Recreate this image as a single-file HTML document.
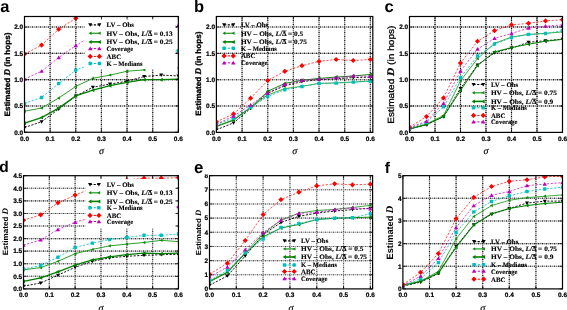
<!DOCTYPE html><html><head><meta charset="utf-8"><style>html,body{margin:0;padding:0;background:#fff;}svg{display:block;will-change:transform;text-rendering:geometricPrecision;}</style></head><body><svg xmlns="http://www.w3.org/2000/svg" width="567" height="310" viewBox="0 0 567 310">
<rect width="567" height="310" fill="#fff"/>
<clipPath id="clip8"><rect x="195" y="174.4" width="20" height="10"/></clipPath>
<clipPath id="clipa"><rect x="24.5" y="16.5" width="153.85" height="115.75"/></clipPath>
<g clip-path="url(#clipa)" opacity="0.9">
<g stroke="#9c9c9c" stroke-width="1.1"><line x1="50.14" y1="16" x2="50.14" y2="133"/><line x1="75.78" y1="16" x2="75.78" y2="133"/><line x1="101.42" y1="16" x2="101.42" y2="133"/><line x1="127.07" y1="16" x2="127.07" y2="133"/><line x1="152.71" y1="16" x2="152.71" y2="133"/><line x1="24" y1="105.94" x2="179" y2="105.94"/><line x1="24" y1="79.64" x2="179" y2="79.64"/><line x1="24" y1="53.33" x2="179" y2="53.33"/><line x1="24" y1="27.02" x2="179" y2="27.02"/></g>
<g stroke="#666" stroke-width="1.1" stroke-dasharray="1,1"><line x1="50.14" y1="16" x2="50.14" y2="133"/><line x1="75.78" y1="16" x2="75.78" y2="133"/><line x1="101.42" y1="16" x2="101.42" y2="133"/><line x1="127.07" y1="16" x2="127.07" y2="133"/><line x1="152.71" y1="16" x2="152.71" y2="133"/><line x1="24" y1="105.94" x2="179" y2="105.94"/><line x1="24" y1="79.64" x2="179" y2="79.64"/><line x1="24" y1="53.33" x2="179" y2="53.33"/><line x1="24" y1="27.02" x2="179" y2="27.02"/></g>
<g stroke="#000" stroke-width="1.1" stroke-dasharray="1,3"><line x1="50.14" y1="16" x2="50.14" y2="133"/><line x1="75.78" y1="16" x2="75.78" y2="133"/><line x1="101.42" y1="16" x2="101.42" y2="133"/><line x1="127.07" y1="16" x2="127.07" y2="133"/><line x1="152.71" y1="16" x2="152.71" y2="133"/><line x1="24" y1="105.94" x2="179" y2="105.94"/><line x1="24" y1="79.64" x2="179" y2="79.64"/><line x1="24" y1="53.33" x2="179" y2="53.33"/><line x1="24" y1="27.02" x2="179" y2="27.02"/></g>
</g>
<g clip-path="url(#clipa)"><polyline points="24.50,127.51 41.59,121.73 58.69,109.10 75.78,95.95 92.88,87.27 109.97,84.06 127.07,81.21 144.16,76.48 161.26,75.11 178.35,75.95" fill="none" stroke="#000" stroke-width="0.9" stroke-dasharray="2.2,1.4"/><path d="M22.50,126.01L26.50,126.01L24.50,129.41Z" fill="#000"/><path d="M39.59,120.23L43.59,120.23L41.59,123.63Z" fill="#000"/><path d="M56.69,107.60L60.69,107.60L58.69,111.00Z" fill="#000"/><path d="M73.78,94.45L77.78,94.45L75.78,97.85Z" fill="#000"/><path d="M90.88,85.77L94.88,85.77L92.88,89.17Z" fill="#000"/><path d="M107.97,82.56L111.97,82.56L109.97,85.96Z" fill="#000"/><path d="M125.07,79.71L129.07,79.71L127.07,83.11Z" fill="#000"/><path d="M142.16,74.98L146.16,74.98L144.16,78.38Z" fill="#000"/><path d="M159.26,73.61L163.26,73.61L161.26,77.01Z" fill="#000"/><path d="M176.35,74.45L180.35,74.45L178.35,77.85Z" fill="#000"/><polyline points="24.50,111.20 41.59,108.05 58.69,98.05 75.78,86.48 92.88,78.32 109.97,75.11 127.07,71.22 144.16,69.90" fill="none" stroke="#2ca02c" stroke-width="1.0"/><path d="M25.77,109.50L25.77,112.90L22.89,111.20Z" fill="#108a10"/><path d="M42.87,106.35L42.87,109.75L39.98,108.05Z" fill="#108a10"/><path d="M59.96,96.35L59.96,99.75L57.07,98.05Z" fill="#108a10"/><path d="M77.06,84.78L77.06,88.18L74.17,86.48Z" fill="#108a10"/><path d="M94.15,76.62L94.15,80.02L91.26,78.32Z" fill="#108a10"/><path d="M111.25,73.41L111.25,76.81L108.36,75.11Z" fill="#108a10"/><path d="M128.34,69.52L128.34,72.92L125.45,71.22Z" fill="#108a10"/><path d="M145.44,68.20L145.44,71.60L142.55,69.90Z" fill="#108a10"/><path d="M179.62,66.36L179.62,69.76L176.73,68.06Z" fill="#108a10"/><polyline points="24.50,123.15 41.59,117.62 58.69,108.10 75.78,95.95 92.88,90.16 109.97,85.63 127.07,82.42 144.16,79.64 161.26,79.64 178.35,79.11" fill="none" stroke="#007f00" stroke-width="1.3"/><path d="M26.00,121.15L26.00,125.15L22.60,123.15Z" fill="#007f00"/><path d="M43.09,115.62L43.09,119.62L39.69,117.62Z" fill="#007f00"/><path d="M60.19,106.10L60.19,110.10L56.79,108.10Z" fill="#007f00"/><path d="M77.28,93.95L77.28,97.95L73.88,95.95Z" fill="#007f00"/><path d="M94.38,88.16L94.38,92.16L90.98,90.16Z" fill="#007f00"/><path d="M111.47,83.63L111.47,87.63L108.07,85.63Z" fill="#007f00"/><path d="M128.57,80.42L128.57,84.42L125.17,82.42Z" fill="#007f00"/><path d="M145.66,77.64L145.66,81.64L142.26,79.64Z" fill="#007f00"/><path d="M162.76,77.64L162.76,81.64L159.36,79.64Z" fill="#007f00"/><path d="M179.85,77.11L179.85,81.11L176.45,79.11Z" fill="#007f00"/><polyline points="24.50,79.11 41.59,71.22 58.69,57.54 75.78,45.65 92.88,34.91 109.97,29.65 127.07,27.02 144.16,25.97 161.26,25.44 178.35,25.44" fill="none" stroke="#bf00bf" stroke-width="0.7" stroke-dasharray="2.2,1.6"/><path d="M22.30,80.76L26.70,80.76L24.50,77.02Z" fill="#bf00bf"/><path d="M39.39,72.87L43.79,72.87L41.59,69.13Z" fill="#bf00bf"/><path d="M56.49,59.19L60.89,59.19L58.69,55.45Z" fill="#bf00bf"/><path d="M73.58,47.30L77.98,47.30L75.78,43.56Z" fill="#bf00bf"/><path d="M90.68,36.56L95.08,36.56L92.88,32.82Z" fill="#bf00bf"/><path d="M107.77,31.30L112.17,31.30L109.97,27.56Z" fill="#bf00bf"/><path d="M124.87,28.67L129.27,28.67L127.07,24.93Z" fill="#bf00bf"/><path d="M141.96,27.62L146.36,27.62L144.16,23.88Z" fill="#bf00bf"/><path d="M159.06,27.09L163.46,27.09L161.26,23.35Z" fill="#bf00bf"/><path d="M176.15,27.09L180.55,27.09L178.35,23.35Z" fill="#bf00bf"/><polyline points="24.50,54.07 41.59,45.07 58.69,29.23 75.78,18.29 92.88,5.98 109.97,0.72 127.07,-4.55 144.16,-4.55 161.26,-4.55 178.35,-4.55" fill="none" stroke="#ff0000" stroke-width="0.7" stroke-dasharray="2.2,1.6"/><path d="M24.50,51.47L27.10,54.07L24.50,56.67L21.90,54.07Z" fill="#ff0000"/><path d="M41.59,42.47L44.19,45.07L41.59,47.67L38.99,45.07Z" fill="#ff0000"/><path d="M58.69,26.63L61.29,29.23L58.69,31.83L56.09,29.23Z" fill="#ff0000"/><path d="M75.78,15.69L78.38,18.29L75.78,20.89L73.18,18.29Z" fill="#ff0000"/><path d="M92.88,3.38L95.48,5.98L92.88,8.58L90.28,5.98Z" fill="#ff0000"/><path d="M109.97,-1.88L112.57,0.72L109.97,3.32L107.37,0.72Z" fill="#ff0000"/><path d="M127.07,-7.15L129.67,-4.55L127.07,-1.95L124.47,-4.55Z" fill="#ff0000"/><path d="M144.16,-7.15L146.76,-4.55L144.16,-1.95L141.56,-4.55Z" fill="#ff0000"/><path d="M161.26,-7.15L163.86,-4.55L161.26,-1.95L158.66,-4.55Z" fill="#ff0000"/><path d="M178.35,-7.15L180.95,-4.55L178.35,-1.95L175.75,-4.55Z" fill="#ff0000"/><polyline points="24.50,103.37 41.59,97.53 58.69,83.58 75.78,70.17 92.88,63.33 109.97,58.59 127.07,55.96 144.16,53.33 161.26,52.28 178.35,50.70" fill="none" stroke="#00bfbf" stroke-width="0.8" stroke-dasharray="2.2,1.6"/><rect x="22.80" y="101.67" width="3.40" height="3.40" rx="0.6" fill="#00bfbf"/><rect x="39.89" y="95.83" width="3.40" height="3.40" rx="0.6" fill="#00bfbf"/><rect x="56.99" y="81.88" width="3.40" height="3.40" rx="0.6" fill="#00bfbf"/><rect x="74.08" y="68.47" width="3.40" height="3.40" rx="0.6" fill="#00bfbf"/><rect x="91.18" y="61.63" width="3.40" height="3.40" rx="0.6" fill="#00bfbf"/><rect x="108.27" y="56.89" width="3.40" height="3.40" rx="0.6" fill="#00bfbf"/><rect x="125.37" y="54.26" width="3.40" height="3.40" rx="0.6" fill="#00bfbf"/><rect x="142.46" y="51.63" width="3.40" height="3.40" rx="0.6" fill="#00bfbf"/><rect x="159.56" y="50.58" width="3.40" height="3.40" rx="0.6" fill="#00bfbf"/><rect x="176.65" y="49.00" width="3.40" height="3.40" rx="0.6" fill="#00bfbf"/></g>
<rect x="84.5" y="18" width="91.0" height="51" fill="#fff"/><line x1="90.2" y1="24.80" x2="99.4" y2="24.80" stroke="#000" stroke-width="1.2" stroke-dasharray="2.2,1.4"/><path d="M88.20,23.30L92.20,23.30L90.20,26.70Z" fill="#000"/><path d="M97.40,23.30L101.40,23.30L99.40,26.70Z" fill="#000"/><text x="106.6" y="27.20" font-family="Liberation Serif" font-weight="bold" font-size="6.7" stroke="#000" stroke-width="0.12" textLength="27.3" lengthAdjust="spacingAndGlyphs">LV – Obs</text><line x1="90.2" y1="33.30" x2="99.4" y2="33.30" stroke="#2ca02c" stroke-width="1.3"/><path d="M91.48,31.60L91.48,35.00L88.59,33.30Z" fill="#108a10"/><path d="M100.68,31.60L100.68,35.00L97.79,33.30Z" fill="#108a10"/><text x="106.6" y="35.70" font-family="Liberation Serif" font-weight="bold" font-size="6.7" stroke="#000" stroke-width="0.12" textLength="66.0" lengthAdjust="spacingAndGlyphs">HV – Obs, <tspan font-style="italic">L</tspan>/<tspan text-decoration="overline">Δ</tspan> = 0.13</text><line x1="90.2" y1="41.90" x2="99.4" y2="41.90" stroke="#007f00" stroke-width="1.6"/><path d="M91.70,39.90L91.70,43.90L88.30,41.90Z" fill="#007f00"/><path d="M100.90,39.90L100.90,43.90L97.50,41.90Z" fill="#007f00"/><text x="106.6" y="44.30" font-family="Liberation Serif" font-weight="bold" font-size="6.7" stroke="#000" stroke-width="0.12" textLength="66.0" lengthAdjust="spacingAndGlyphs">HV – Obs, <tspan font-style="italic">L</tspan>/<tspan text-decoration="overline">Δ</tspan> = 0.25</text><line x1="90.2" y1="48.60" x2="99.4" y2="48.60" stroke="#bf00bf" stroke-width="1.0" stroke-dasharray="2.2,1.6"/><path d="M88.00,50.25L92.40,50.25L90.20,46.51Z" fill="#bf00bf"/><path d="M97.20,50.25L101.60,50.25L99.40,46.51Z" fill="#bf00bf"/><text x="106.6" y="51.00" font-family="Liberation Serif" font-weight="bold" font-size="6.7" stroke="#000" stroke-width="0.12" textLength="26.5" lengthAdjust="spacingAndGlyphs">Coverage</text><line x1="90.2" y1="56.40" x2="99.4" y2="56.40" stroke="#ff0000" stroke-width="1.0" stroke-dasharray="2.2,1.6"/><path d="M90.20,53.80L92.80,56.40L90.20,59.00L87.60,56.40Z" fill="#ff0000"/><path d="M99.40,53.80L102.00,56.40L99.40,59.00L96.80,56.40Z" fill="#ff0000"/><text x="106.6" y="58.80" font-family="Liberation Serif" font-weight="bold" font-size="6.7" stroke="#000" stroke-width="0.12" textLength="14.5" lengthAdjust="spacingAndGlyphs">ABC</text><line x1="90.2" y1="63.50" x2="99.4" y2="63.50" stroke="#00bfbf" stroke-width="1.1" stroke-dasharray="2.2,1.6"/><rect x="88.50" y="61.80" width="3.40" height="3.40" rx="0.6" fill="#00bfbf"/><rect x="97.70" y="61.80" width="3.40" height="3.40" rx="0.6" fill="#00bfbf"/><text x="106.6" y="65.90" font-family="Liberation Serif" font-weight="bold" font-size="6.7" stroke="#000" stroke-width="0.12" textLength="36.0" lengthAdjust="spacingAndGlyphs">K – Medians</text>
<rect x="24.5" y="16.5" width="153.85" height="115.75" fill="none" stroke="#000" stroke-width="1.2"/><g stroke="#000" stroke-width="0.8"><line x1="24.50" y1="132.25" x2="24.50" y2="129.25"/><line x1="24.50" y1="16.5" x2="24.50" y2="19.5"/><line x1="50.14" y1="132.25" x2="50.14" y2="129.25"/><line x1="50.14" y1="16.5" x2="50.14" y2="19.5"/><line x1="75.78" y1="132.25" x2="75.78" y2="129.25"/><line x1="75.78" y1="16.5" x2="75.78" y2="19.5"/><line x1="101.42" y1="132.25" x2="101.42" y2="129.25"/><line x1="101.42" y1="16.5" x2="101.42" y2="19.5"/><line x1="127.07" y1="132.25" x2="127.07" y2="129.25"/><line x1="127.07" y1="16.5" x2="127.07" y2="19.5"/><line x1="152.71" y1="132.25" x2="152.71" y2="129.25"/><line x1="152.71" y1="16.5" x2="152.71" y2="19.5"/><line x1="178.35" y1="132.25" x2="178.35" y2="129.25"/><line x1="178.35" y1="16.5" x2="178.35" y2="19.5"/><line x1="24.5" y1="132.25" x2="27.5" y2="132.25"/><line x1="178.35" y1="132.25" x2="175.35" y2="132.25"/><line x1="24.5" y1="105.94" x2="27.5" y2="105.94"/><line x1="178.35" y1="105.94" x2="175.35" y2="105.94"/><line x1="24.5" y1="79.64" x2="27.5" y2="79.64"/><line x1="178.35" y1="79.64" x2="175.35" y2="79.64"/><line x1="24.5" y1="53.33" x2="27.5" y2="53.33"/><line x1="178.35" y1="53.33" x2="175.35" y2="53.33"/><line x1="24.5" y1="27.02" x2="27.5" y2="27.02"/><line x1="178.35" y1="27.02" x2="175.35" y2="27.02"/></g>
<g font-family="Liberation Sans" font-weight="bold" font-size="6.4" fill="#000" stroke="#000" stroke-width="0.2"><text x="24.50" y="140.65" text-anchor="middle" textLength="9" lengthAdjust="spacingAndGlyphs">0.0</text><text x="50.14" y="140.65" text-anchor="middle" textLength="9" lengthAdjust="spacingAndGlyphs">0.1</text><text x="75.78" y="140.65" text-anchor="middle" textLength="9" lengthAdjust="spacingAndGlyphs">0.2</text><text x="101.42" y="140.65" text-anchor="middle" textLength="9" lengthAdjust="spacingAndGlyphs">0.3</text><text x="127.07" y="140.65" text-anchor="middle" textLength="9" lengthAdjust="spacingAndGlyphs">0.4</text><text x="152.71" y="140.65" text-anchor="middle" textLength="9" lengthAdjust="spacingAndGlyphs">0.5</text><text x="178.35" y="140.65" text-anchor="middle" textLength="9" lengthAdjust="spacingAndGlyphs">0.6</text><text x="23.20" y="134.50" text-anchor="end" textLength="9.0" lengthAdjust="spacingAndGlyphs">0.0</text><text x="23.20" y="108.19" text-anchor="end" textLength="9.0" lengthAdjust="spacingAndGlyphs">0.5</text><text x="23.20" y="81.89" text-anchor="end" textLength="9.0" lengthAdjust="spacingAndGlyphs">1.0</text><text x="23.20" y="55.58" text-anchor="end" textLength="9.0" lengthAdjust="spacingAndGlyphs">1.5</text><text x="23.20" y="29.27" text-anchor="end" textLength="9.0" lengthAdjust="spacingAndGlyphs">2.0</text></g>
<text x="101.42" y="153.85" text-anchor="middle" font-family="Liberation Serif" font-style="italic" font-size="10" stroke="#000" stroke-width="0.15">σ</text>
<text transform="translate(9.70,74.55) rotate(-90)" text-anchor="middle" font-family="Liberation Sans" font-weight="bold" stroke="#000" stroke-width="0.3" font-size="7.8" textLength="83.9" lengthAdjust="spacingAndGlyphs">Estimated <tspan font-family="Liberation Serif" font-style="italic" font-weight="bold" font-size="1.12em">D</tspan> (in hops)</text>
<text x="0.3" y="11.6" font-family="Liberation Sans" font-weight="bold" font-size="16.5">a</text>
<clipPath id="clipb"><rect x="216.4" y="16.5" width="156.4" height="115.9"/></clipPath>
<g clip-path="url(#clipb)" opacity="0.85">
<g stroke="#9c9c9c" stroke-width="1.1"><line x1="242.06" y1="16" x2="242.06" y2="133"/><line x1="267.72" y1="16" x2="267.72" y2="133"/><line x1="293.38" y1="16" x2="293.38" y2="133"/><line x1="319.03" y1="16" x2="319.03" y2="133"/><line x1="344.69" y1="16" x2="344.69" y2="133"/><line x1="370.35" y1="16" x2="370.35" y2="133"/><line x1="216" y1="106.06" x2="373" y2="106.06"/><line x1="216" y1="79.72" x2="373" y2="79.72"/><line x1="216" y1="53.38" x2="373" y2="53.38"/><line x1="216" y1="27.04" x2="373" y2="27.04"/></g>
<g stroke="#666" stroke-width="1.1" stroke-dasharray="1,1"><line x1="242.06" y1="16" x2="242.06" y2="133"/><line x1="267.72" y1="16" x2="267.72" y2="133"/><line x1="293.38" y1="16" x2="293.38" y2="133"/><line x1="319.03" y1="16" x2="319.03" y2="133"/><line x1="344.69" y1="16" x2="344.69" y2="133"/><line x1="370.35" y1="16" x2="370.35" y2="133"/><line x1="216" y1="106.06" x2="373" y2="106.06"/><line x1="216" y1="79.72" x2="373" y2="79.72"/><line x1="216" y1="53.38" x2="373" y2="53.38"/><line x1="216" y1="27.04" x2="373" y2="27.04"/></g>
<g stroke="#000" stroke-width="1.1" stroke-dasharray="1,3"><line x1="242.06" y1="16" x2="242.06" y2="133"/><line x1="267.72" y1="16" x2="267.72" y2="133"/><line x1="293.38" y1="16" x2="293.38" y2="133"/><line x1="319.03" y1="16" x2="319.03" y2="133"/><line x1="344.69" y1="16" x2="344.69" y2="133"/><line x1="370.35" y1="16" x2="370.35" y2="133"/><line x1="216" y1="106.06" x2="373" y2="106.06"/><line x1="216" y1="79.72" x2="373" y2="79.72"/><line x1="216" y1="53.38" x2="373" y2="53.38"/><line x1="216" y1="27.04" x2="373" y2="27.04"/></g>
</g>
<g clip-path="url(#clipb)"><polyline points="216.40,129.77 233.51,122.92 250.61,108.38 267.72,93.15 284.82,85.78 301.93,81.61 319.03,79.72 336.14,78.66 353.24,77.61 370.35,77.08" fill="none" stroke="#000" stroke-width="0.9" stroke-dasharray="2.2,1.4"/><path d="M214.40,128.27L218.40,128.27L216.40,131.67Z" fill="#000"/><path d="M231.51,121.42L235.51,121.42L233.51,124.82Z" fill="#000"/><path d="M248.61,106.88L252.61,106.88L250.61,110.28Z" fill="#000"/><path d="M265.72,91.65L269.72,91.65L267.72,95.05Z" fill="#000"/><path d="M282.82,84.28L286.82,84.28L284.82,87.68Z" fill="#000"/><path d="M299.93,80.11L303.93,80.11L301.93,83.51Z" fill="#000"/><path d="M317.03,78.22L321.03,78.22L319.03,81.62Z" fill="#000"/><path d="M334.14,77.16L338.14,77.16L336.14,80.56Z" fill="#000"/><path d="M351.24,76.11L355.24,76.11L353.24,79.51Z" fill="#000"/><path d="M368.35,75.58L372.35,75.58L370.35,78.98Z" fill="#000"/><polyline points="216.40,126.08 233.51,119.76 250.61,107.11 267.72,95.00 284.82,88.67 301.93,86.30 319.03,83.41 336.14,82.88 353.24,82.09 370.35,81.04" fill="none" stroke="#2ca02c" stroke-width="0.9"/><path d="M217.68,124.38L217.68,127.78L214.78,126.08Z" fill="#108a10"/><path d="M234.78,118.06L234.78,121.46L231.89,119.76Z" fill="#108a10"/><path d="M251.89,105.41L251.89,108.81L249.00,107.11Z" fill="#108a10"/><path d="M268.99,93.30L268.99,96.70L266.10,95.00Z" fill="#108a10"/><path d="M286.10,86.97L286.10,90.37L283.21,88.67Z" fill="#108a10"/><path d="M303.20,84.60L303.20,88.00L300.31,86.30Z" fill="#108a10"/><path d="M320.31,81.71L320.31,85.11L317.42,83.41Z" fill="#108a10"/><path d="M337.41,81.18L337.41,84.58L334.52,82.88Z" fill="#108a10"/><path d="M354.52,80.39L354.52,83.79L351.63,82.09Z" fill="#108a10"/><path d="M371.62,79.34L371.62,82.74L368.74,81.04Z" fill="#108a10"/><polyline points="216.40,126.61 233.51,120.28 250.61,107.64 267.72,91.31 284.82,83.41 301.93,80.25 319.03,78.40 336.14,77.08 353.24,76.03 370.35,74.45" fill="none" stroke="#007f00" stroke-width="0.9"/><path d="M217.90,124.61L217.90,128.61L214.50,126.61Z" fill="#007f00"/><path d="M235.01,118.28L235.01,122.28L231.61,120.28Z" fill="#007f00"/><path d="M252.11,105.64L252.11,109.64L248.71,107.64Z" fill="#007f00"/><path d="M269.22,89.31L269.22,93.31L265.82,91.31Z" fill="#007f00"/><path d="M286.32,81.41L286.32,85.41L282.92,83.41Z" fill="#007f00"/><path d="M303.43,78.25L303.43,82.25L300.03,80.25Z" fill="#007f00"/><path d="M320.53,76.40L320.53,80.40L317.13,78.40Z" fill="#007f00"/><path d="M337.64,75.08L337.64,79.08L334.24,77.08Z" fill="#007f00"/><path d="M354.74,74.03L354.74,78.03L351.34,76.03Z" fill="#007f00"/><path d="M371.85,72.45L371.85,76.45L368.45,74.45Z" fill="#007f00"/><polyline points="216.40,124.50 233.51,118.18 250.61,107.38 267.72,96.58 284.82,89.73 301.93,86.57 319.03,83.41 336.14,83.14 353.24,82.14 370.35,81.30" fill="none" stroke="#00bfbf" stroke-width="0.8" stroke-dasharray="2.2,1.6"/><rect x="214.70" y="122.80" width="3.40" height="3.40" rx="0.6" fill="#00bfbf"/><rect x="231.81" y="116.48" width="3.40" height="3.40" rx="0.6" fill="#00bfbf"/><rect x="248.91" y="105.68" width="3.40" height="3.40" rx="0.6" fill="#00bfbf"/><rect x="266.02" y="94.88" width="3.40" height="3.40" rx="0.6" fill="#00bfbf"/><rect x="283.12" y="88.03" width="3.40" height="3.40" rx="0.6" fill="#00bfbf"/><rect x="300.23" y="84.87" width="3.40" height="3.40" rx="0.6" fill="#00bfbf"/><rect x="317.33" y="81.71" width="3.40" height="3.40" rx="0.6" fill="#00bfbf"/><rect x="334.44" y="81.44" width="3.40" height="3.40" rx="0.6" fill="#00bfbf"/><rect x="351.54" y="80.44" width="3.40" height="3.40" rx="0.6" fill="#00bfbf"/><rect x="368.65" y="79.60" width="3.40" height="3.40" rx="0.6" fill="#00bfbf"/><polyline points="216.40,121.86 233.51,113.96 250.61,98.16 267.72,80.51 284.82,71.29 301.93,65.70 319.03,61.38 336.14,59.49 353.24,60.49 370.35,59.49" fill="none" stroke="#ff0000" stroke-width="0.7" stroke-dasharray="2.2,1.6"/><path d="M216.40,119.26L219.00,121.86L216.40,124.46L213.80,121.86Z" fill="#ff0000"/><path d="M233.51,111.36L236.11,113.96L233.51,116.56L230.91,113.96Z" fill="#ff0000"/><path d="M250.61,95.56L253.21,98.16L250.61,100.76L248.01,98.16Z" fill="#ff0000"/><path d="M267.72,77.91L270.32,80.51L267.72,83.11L265.12,80.51Z" fill="#ff0000"/><path d="M284.82,68.69L287.42,71.29L284.82,73.89L282.22,71.29Z" fill="#ff0000"/><path d="M301.93,63.10L304.53,65.70L301.93,68.30L299.33,65.70Z" fill="#ff0000"/><path d="M319.03,58.78L321.63,61.38L319.03,63.98L316.43,61.38Z" fill="#ff0000"/><path d="M336.14,56.89L338.74,59.49L336.14,62.09L333.54,59.49Z" fill="#ff0000"/><path d="M353.24,57.89L355.84,60.49L353.24,63.09L350.64,60.49Z" fill="#ff0000"/><path d="M370.35,56.89L372.95,59.49L370.35,62.09L367.75,59.49Z" fill="#ff0000"/><polyline points="216.40,124.29 233.51,116.07 250.61,105.01 267.72,93.05 284.82,84.46 301.93,80.25 319.03,79.19 336.14,77.72 353.24,75.82 370.35,76.29" fill="none" stroke="#bf00bf" stroke-width="0.7" stroke-dasharray="2.2,1.6"/><path d="M214.20,125.94L218.60,125.94L216.40,122.20Z" fill="#bf00bf"/><path d="M231.31,117.72L235.71,117.72L233.51,113.98Z" fill="#bf00bf"/><path d="M248.41,106.66L252.81,106.66L250.61,102.92Z" fill="#bf00bf"/><path d="M265.52,94.70L269.92,94.70L267.72,90.96Z" fill="#bf00bf"/><path d="M282.62,86.11L287.02,86.11L284.82,82.37Z" fill="#bf00bf"/><path d="M299.73,81.90L304.13,81.90L301.93,78.16Z" fill="#bf00bf"/><path d="M316.83,80.84L321.23,80.84L319.03,77.10Z" fill="#bf00bf"/><path d="M333.94,79.37L338.34,79.37L336.14,75.63Z" fill="#bf00bf"/><path d="M351.04,77.47L355.44,77.47L353.24,73.73Z" fill="#bf00bf"/><path d="M368.15,77.94L372.55,77.94L370.35,74.20Z" fill="#bf00bf"/></g>
<line x1="224.1" y1="24.80" x2="233.3" y2="24.80" stroke="#000" stroke-width="1.2" stroke-dasharray="2.2,1.4"/><path d="M222.10,23.30L226.10,23.30L224.10,26.70Z" fill="#000"/><path d="M231.30,23.30L235.30,23.30L233.30,26.70Z" fill="#000"/><text x="240.9" y="27.20" font-family="Liberation Serif" font-weight="bold" font-size="6.7" stroke="#000" stroke-width="0.12" textLength="27.3" lengthAdjust="spacingAndGlyphs">LV – Obs</text><line x1="224.1" y1="33.30" x2="233.3" y2="33.30" stroke="#2ca02c" stroke-width="1.3"/><path d="M225.38,31.60L225.38,35.00L222.48,33.30Z" fill="#108a10"/><path d="M234.58,31.60L234.58,35.00L231.69,33.30Z" fill="#108a10"/><text x="240.9" y="35.70" font-family="Liberation Serif" font-weight="bold" font-size="6.7" stroke="#000" stroke-width="0.12" textLength="62.4" lengthAdjust="spacingAndGlyphs">HV – Obs, <tspan font-style="italic">L</tspan>/<tspan text-decoration="overline">Δ</tspan> = 0.5</text><line x1="224.1" y1="41.90" x2="233.3" y2="41.90" stroke="#007f00" stroke-width="1.6"/><path d="M225.60,39.90L225.60,43.90L222.20,41.90Z" fill="#007f00"/><path d="M234.80,39.90L234.80,43.90L231.40,41.90Z" fill="#007f00"/><text x="240.9" y="44.30" font-family="Liberation Serif" font-weight="bold" font-size="6.7" stroke="#000" stroke-width="0.12" textLength="66.0" lengthAdjust="spacingAndGlyphs">HV – Obs, <tspan font-style="italic">L</tspan>/<tspan text-decoration="overline">Δ</tspan> = 0.75</text><line x1="224.1" y1="48.30" x2="233.3" y2="48.30" stroke="#00bfbf" stroke-width="1.1" stroke-dasharray="2.2,1.6"/><rect x="222.40" y="46.60" width="3.40" height="3.40" rx="0.6" fill="#00bfbf"/><rect x="231.60" y="46.60" width="3.40" height="3.40" rx="0.6" fill="#00bfbf"/><text x="240.9" y="50.70" font-family="Liberation Serif" font-weight="bold" font-size="6.7" stroke="#000" stroke-width="0.12" textLength="36.0" lengthAdjust="spacingAndGlyphs">K – Medians</text><line x1="224.1" y1="55.90" x2="233.3" y2="55.90" stroke="#ff0000" stroke-width="1.0" stroke-dasharray="2.2,1.6"/><path d="M224.10,53.30L226.70,55.90L224.10,58.50L221.50,55.90Z" fill="#ff0000"/><path d="M233.30,53.30L235.90,55.90L233.30,58.50L230.70,55.90Z" fill="#ff0000"/><text x="240.9" y="58.30" font-family="Liberation Serif" font-weight="bold" font-size="6.7" stroke="#000" stroke-width="0.12" textLength="14.5" lengthAdjust="spacingAndGlyphs">ABC</text><line x1="224.1" y1="62.80" x2="233.3" y2="62.80" stroke="#bf00bf" stroke-width="1.0" stroke-dasharray="2.2,1.6"/><path d="M221.90,64.45L226.30,64.45L224.10,60.71Z" fill="#bf00bf"/><path d="M231.10,64.45L235.50,64.45L233.30,60.71Z" fill="#bf00bf"/><text x="240.9" y="65.20" font-family="Liberation Serif" font-weight="bold" font-size="6.7" stroke="#000" stroke-width="0.12" textLength="26.5" lengthAdjust="spacingAndGlyphs">Coverage</text>
<rect x="216.4" y="16.5" width="156.4" height="115.9" fill="none" stroke="#000" stroke-width="1.2"/><g stroke="#000" stroke-width="0.8"><line x1="216.40" y1="132.4" x2="216.40" y2="129.4"/><line x1="216.40" y1="16.5" x2="216.40" y2="19.5"/><line x1="242.06" y1="132.4" x2="242.06" y2="129.4"/><line x1="242.06" y1="16.5" x2="242.06" y2="19.5"/><line x1="267.72" y1="132.4" x2="267.72" y2="129.4"/><line x1="267.72" y1="16.5" x2="267.72" y2="19.5"/><line x1="293.38" y1="132.4" x2="293.38" y2="129.4"/><line x1="293.38" y1="16.5" x2="293.38" y2="19.5"/><line x1="319.03" y1="132.4" x2="319.03" y2="129.4"/><line x1="319.03" y1="16.5" x2="319.03" y2="19.5"/><line x1="344.69" y1="132.4" x2="344.69" y2="129.4"/><line x1="344.69" y1="16.5" x2="344.69" y2="19.5"/><line x1="370.35" y1="132.4" x2="370.35" y2="129.4"/><line x1="370.35" y1="16.5" x2="370.35" y2="19.5"/><line x1="216.4" y1="132.40" x2="219.4" y2="132.40"/><line x1="372.8" y1="132.40" x2="369.8" y2="132.40"/><line x1="216.4" y1="106.06" x2="219.4" y2="106.06"/><line x1="372.8" y1="106.06" x2="369.8" y2="106.06"/><line x1="216.4" y1="79.72" x2="219.4" y2="79.72"/><line x1="372.8" y1="79.72" x2="369.8" y2="79.72"/><line x1="216.4" y1="53.38" x2="219.4" y2="53.38"/><line x1="372.8" y1="53.38" x2="369.8" y2="53.38"/><line x1="216.4" y1="27.04" x2="219.4" y2="27.04"/><line x1="372.8" y1="27.04" x2="369.8" y2="27.04"/></g>
<g font-family="Liberation Sans" font-weight="bold" font-size="6.4" fill="#000" stroke="#000" stroke-width="0.2"><text x="216.40" y="140.80" text-anchor="middle" textLength="9" lengthAdjust="spacingAndGlyphs">0.0</text><text x="242.06" y="140.80" text-anchor="middle" textLength="9" lengthAdjust="spacingAndGlyphs">0.1</text><text x="267.72" y="140.80" text-anchor="middle" textLength="9" lengthAdjust="spacingAndGlyphs">0.2</text><text x="293.38" y="140.80" text-anchor="middle" textLength="9" lengthAdjust="spacingAndGlyphs">0.3</text><text x="319.03" y="140.80" text-anchor="middle" textLength="9" lengthAdjust="spacingAndGlyphs">0.4</text><text x="344.69" y="140.80" text-anchor="middle" textLength="9" lengthAdjust="spacingAndGlyphs">0.5</text><text x="370.35" y="140.80" text-anchor="middle" textLength="9" lengthAdjust="spacingAndGlyphs">0.6</text><text x="215.10" y="134.65" text-anchor="end" textLength="9.0" lengthAdjust="spacingAndGlyphs">0.0</text><text x="215.10" y="108.31" text-anchor="end" textLength="9.0" lengthAdjust="spacingAndGlyphs">0.5</text><text x="215.10" y="81.97" text-anchor="end" textLength="9.0" lengthAdjust="spacingAndGlyphs">1.0</text><text x="215.10" y="55.63" text-anchor="end" textLength="9.0" lengthAdjust="spacingAndGlyphs">1.5</text><text x="215.10" y="29.29" text-anchor="end" textLength="9.0" lengthAdjust="spacingAndGlyphs">2.0</text></g>
<text x="294.60" y="154.00" text-anchor="middle" font-family="Liberation Serif" font-style="italic" font-size="10" stroke="#000" stroke-width="0.15">σ</text>
<text transform="translate(201.20,73.60) rotate(-90)" text-anchor="middle" font-family="Liberation Sans" font-weight="bold" stroke="#000" stroke-width="0.3" font-size="7.8" textLength="84.2" lengthAdjust="spacingAndGlyphs">Estimated <tspan font-family="Liberation Serif" font-style="italic" font-weight="bold" font-size="1.12em">D</tspan> (in hops)</text>
<text x="193.9" y="11.7" font-family="Liberation Sans" font-weight="bold" font-size="16.5">b</text>
<clipPath id="clipc"><rect x="409.5" y="16.5" width="153.0" height="115.9"/></clipPath>
<g clip-path="url(#clipc)" opacity="1.0">
<g stroke="#9c9c9c" stroke-width="1.1"><line x1="435.00" y1="16" x2="435.00" y2="133"/><line x1="460.50" y1="16" x2="460.50" y2="133"/><line x1="486.00" y1="16" x2="486.00" y2="133"/><line x1="511.50" y1="16" x2="511.50" y2="133"/><line x1="537.00" y1="16" x2="537.00" y2="133"/><line x1="409" y1="106.06" x2="563" y2="106.06"/><line x1="409" y1="79.72" x2="563" y2="79.72"/><line x1="409" y1="53.38" x2="563" y2="53.38"/><line x1="409" y1="27.04" x2="563" y2="27.04"/></g>
<g stroke="#666" stroke-width="1.1" stroke-dasharray="1,1"><line x1="435.00" y1="16" x2="435.00" y2="133"/><line x1="460.50" y1="16" x2="460.50" y2="133"/><line x1="486.00" y1="16" x2="486.00" y2="133"/><line x1="511.50" y1="16" x2="511.50" y2="133"/><line x1="537.00" y1="16" x2="537.00" y2="133"/><line x1="409" y1="106.06" x2="563" y2="106.06"/><line x1="409" y1="79.72" x2="563" y2="79.72"/><line x1="409" y1="53.38" x2="563" y2="53.38"/><line x1="409" y1="27.04" x2="563" y2="27.04"/></g>
<g stroke="#000" stroke-width="1.1" stroke-dasharray="1,3"><line x1="435.00" y1="16" x2="435.00" y2="133"/><line x1="460.50" y1="16" x2="460.50" y2="133"/><line x1="486.00" y1="16" x2="486.00" y2="133"/><line x1="511.50" y1="16" x2="511.50" y2="133"/><line x1="537.00" y1="16" x2="537.00" y2="133"/><line x1="409" y1="106.06" x2="563" y2="106.06"/><line x1="409" y1="79.72" x2="563" y2="79.72"/><line x1="409" y1="53.38" x2="563" y2="53.38"/><line x1="409" y1="27.04" x2="563" y2="27.04"/></g>
</g>
<g clip-path="url(#clipc)"><polyline points="409.50,128.71 426.50,124.76 443.50,116.60 460.50,88.41 477.50,64.97 494.50,52.85 511.50,48.11 528.50,42.31 545.50,40.73 562.50,39.15" fill="none" stroke="#000" stroke-width="0.9" stroke-dasharray="2.2,1.4"/><path d="M407.50,127.21L411.50,127.21L409.50,130.61Z" fill="#000"/><path d="M424.50,123.26L428.50,123.26L426.50,126.66Z" fill="#000"/><path d="M441.50,115.10L445.50,115.10L443.50,118.50Z" fill="#000"/><path d="M458.50,86.91L462.50,86.91L460.50,90.31Z" fill="#000"/><path d="M475.50,63.47L479.50,63.47L477.50,66.87Z" fill="#000"/><path d="M492.50,51.35L496.50,51.35L494.50,54.75Z" fill="#000"/><path d="M509.50,46.61L513.50,46.61L511.50,50.01Z" fill="#000"/><path d="M526.50,40.81L530.50,40.81L528.50,44.21Z" fill="#000"/><path d="M543.50,39.23L547.50,39.23L545.50,42.63Z" fill="#000"/><path d="M560.50,37.65L564.50,37.65L562.50,41.05Z" fill="#000"/><polyline points="409.50,128.71 426.50,123.97 443.50,115.54 460.50,80.77 477.50,58.65 494.50,43.37 511.50,37.05 528.50,34.41 545.50,33.36 562.50,31.94" fill="none" stroke="#2ca02c" stroke-width="0.9"/><path d="M410.77,127.01L410.77,130.41L407.88,128.71Z" fill="#108a10"/><path d="M427.77,122.27L427.77,125.67L424.88,123.97Z" fill="#108a10"/><path d="M444.77,113.84L444.77,117.24L441.88,115.54Z" fill="#108a10"/><path d="M461.77,79.07L461.77,82.47L458.88,80.77Z" fill="#108a10"/><path d="M478.77,56.95L478.77,60.35L475.88,58.65Z" fill="#108a10"/><path d="M495.77,41.67L495.77,45.07L492.88,43.37Z" fill="#108a10"/><path d="M512.77,35.35L512.77,38.75L509.88,37.05Z" fill="#108a10"/><path d="M529.77,32.71L529.77,36.11L526.88,34.41Z" fill="#108a10"/><path d="M546.77,31.66L546.77,35.06L543.88,33.36Z" fill="#108a10"/><path d="M563.77,30.24L563.77,33.64L560.88,31.94Z" fill="#108a10"/><polyline points="409.50,129.24 426.50,124.50 443.50,116.60 460.50,90.52 477.50,65.49 494.50,51.95 511.50,47.58 528.50,44.16 545.50,41.26 562.50,39.36" fill="none" stroke="#007f00" stroke-width="1.0"/><path d="M411.00,127.24L411.00,131.24L407.60,129.24Z" fill="#007f00"/><path d="M428.00,122.50L428.00,126.50L424.60,124.50Z" fill="#007f00"/><path d="M445.00,114.60L445.00,118.60L441.60,116.60Z" fill="#007f00"/><path d="M462.00,88.52L462.00,92.52L458.60,90.52Z" fill="#007f00"/><path d="M479.00,63.49L479.00,67.49L475.60,65.49Z" fill="#007f00"/><path d="M496.00,49.95L496.00,53.95L492.60,51.95Z" fill="#007f00"/><path d="M513.00,45.58L513.00,49.58L509.60,47.58Z" fill="#007f00"/><path d="M530.00,42.16L530.00,46.16L526.60,44.16Z" fill="#007f00"/><path d="M547.00,39.26L547.00,43.26L543.60,41.26Z" fill="#007f00"/><path d="M564.00,37.36L564.00,41.36L560.60,39.36Z" fill="#007f00"/><polyline points="409.50,128.19 426.50,122.39 443.50,106.85 460.50,77.61 477.50,56.01 494.50,44.16 511.50,37.57 528.50,34.41 545.50,33.52 562.50,30.72" fill="none" stroke="#00bfbf" stroke-width="0.8" stroke-dasharray="2.2,1.6"/><rect x="407.80" y="126.49" width="3.40" height="3.40" rx="0.6" fill="#00bfbf"/><rect x="424.80" y="120.69" width="3.40" height="3.40" rx="0.6" fill="#00bfbf"/><rect x="441.80" y="105.15" width="3.40" height="3.40" rx="0.6" fill="#00bfbf"/><rect x="458.80" y="75.91" width="3.40" height="3.40" rx="0.6" fill="#00bfbf"/><rect x="475.80" y="54.31" width="3.40" height="3.40" rx="0.6" fill="#00bfbf"/><rect x="492.80" y="42.46" width="3.40" height="3.40" rx="0.6" fill="#00bfbf"/><rect x="509.80" y="35.87" width="3.40" height="3.40" rx="0.6" fill="#00bfbf"/><rect x="526.80" y="32.71" width="3.40" height="3.40" rx="0.6" fill="#00bfbf"/><rect x="543.80" y="31.82" width="3.40" height="3.40" rx="0.6" fill="#00bfbf"/><rect x="560.80" y="29.02" width="3.40" height="3.40" rx="0.6" fill="#00bfbf"/><polyline points="409.50,127.13 426.50,116.60 443.50,97.95 460.50,63.07 477.50,41.26 494.50,30.72 511.50,24.93 528.50,23.35 545.50,20.93 562.50,19.66" fill="none" stroke="#ff0000" stroke-width="0.7" stroke-dasharray="2.2,1.6"/><path d="M409.50,124.53L412.10,127.13L409.50,129.73L406.90,127.13Z" fill="#ff0000"/><path d="M426.50,114.00L429.10,116.60L426.50,119.20L423.90,116.60Z" fill="#ff0000"/><path d="M443.50,95.35L446.10,97.95L443.50,100.55L440.90,97.95Z" fill="#ff0000"/><path d="M460.50,60.47L463.10,63.07L460.50,65.67L457.90,63.07Z" fill="#ff0000"/><path d="M477.50,38.66L480.10,41.26L477.50,43.86L474.90,41.26Z" fill="#ff0000"/><path d="M494.50,28.12L497.10,30.72L494.50,33.32L491.90,30.72Z" fill="#ff0000"/><path d="M511.50,22.33L514.10,24.93L511.50,27.53L508.90,24.93Z" fill="#ff0000"/><path d="M528.50,20.75L531.10,23.35L528.50,25.95L525.90,23.35Z" fill="#ff0000"/><path d="M545.50,18.33L548.10,20.93L545.50,23.53L542.90,20.93Z" fill="#ff0000"/><path d="M562.50,17.06L565.10,19.66L562.50,22.26L559.90,19.66Z" fill="#ff0000"/><polyline points="409.50,127.66 426.50,121.34 443.50,103.27 460.50,71.03 477.50,49.16 494.50,38.36 511.50,33.52 528.50,28.09 545.50,26.14 562.50,24.93" fill="none" stroke="#bf00bf" stroke-width="0.7" stroke-dasharray="2.2,1.6"/><path d="M407.30,129.31L411.70,129.31L409.50,125.57Z" fill="#bf00bf"/><path d="M424.30,122.99L428.70,122.99L426.50,119.25Z" fill="#bf00bf"/><path d="M441.30,104.92L445.70,104.92L443.50,101.18Z" fill="#bf00bf"/><path d="M458.30,72.68L462.70,72.68L460.50,68.94Z" fill="#bf00bf"/><path d="M475.30,50.81L479.70,50.81L477.50,47.07Z" fill="#bf00bf"/><path d="M492.30,40.01L496.70,40.01L494.50,36.27Z" fill="#bf00bf"/><path d="M509.30,35.17L513.70,35.17L511.50,31.43Z" fill="#bf00bf"/><path d="M526.30,29.74L530.70,29.74L528.50,26.00Z" fill="#bf00bf"/><path d="M543.30,27.79L547.70,27.79L545.50,24.05Z" fill="#bf00bf"/><path d="M560.30,26.58L564.70,26.58L562.50,22.84Z" fill="#bf00bf"/></g>
<line x1="473.5" y1="84.50" x2="483.2" y2="84.50" stroke="#000" stroke-width="1.2" stroke-dasharray="2.2,1.4"/><path d="M471.50,83.00L475.50,83.00L473.50,86.40Z" fill="#000"/><path d="M481.20,83.00L485.20,83.00L483.20,86.40Z" fill="#000"/><text x="490.9" y="86.90" font-family="Liberation Serif" font-weight="bold" font-size="6.7" stroke="#000" stroke-width="0.12" textLength="27.3" lengthAdjust="spacingAndGlyphs">LV – Obs</text><line x1="473.5" y1="92.80" x2="483.2" y2="92.80" stroke="#2ca02c" stroke-width="1.3"/><path d="M474.77,91.10L474.77,94.50L471.88,92.80Z" fill="#108a10"/><path d="M484.47,91.10L484.47,94.50L481.58,92.80Z" fill="#108a10"/><text x="490.9" y="95.20" font-family="Liberation Serif" font-weight="bold" font-size="6.7" stroke="#000" stroke-width="0.12" textLength="66.0" lengthAdjust="spacingAndGlyphs">HV – Obs, <tspan font-style="italic">L</tspan>/<tspan text-decoration="overline">Δ</tspan> = 0.75</text><line x1="473.5" y1="101.40" x2="483.2" y2="101.40" stroke="#007f00" stroke-width="1.6"/><path d="M475.00,99.40L475.00,103.40L471.60,101.40Z" fill="#007f00"/><path d="M484.70,99.40L484.70,103.40L481.30,101.40Z" fill="#007f00"/><text x="490.9" y="103.80" font-family="Liberation Serif" font-weight="bold" font-size="6.7" stroke="#000" stroke-width="0.12" textLength="62.4" lengthAdjust="spacingAndGlyphs">HV – Obs, <tspan font-style="italic">L</tspan>/<tspan text-decoration="overline">Δ</tspan> = 0.9</text><line x1="473.5" y1="107.80" x2="483.2" y2="107.80" stroke="#00bfbf" stroke-width="1.1" stroke-dasharray="2.2,1.6"/><rect x="471.80" y="106.10" width="3.40" height="3.40" rx="0.6" fill="#00bfbf"/><rect x="481.50" y="106.10" width="3.40" height="3.40" rx="0.6" fill="#00bfbf"/><text x="490.9" y="110.20" font-family="Liberation Serif" font-weight="bold" font-size="6.7" stroke="#000" stroke-width="0.12" textLength="36.0" lengthAdjust="spacingAndGlyphs">K – Medians</text><line x1="473.5" y1="115.40" x2="483.2" y2="115.40" stroke="#ff0000" stroke-width="1.0" stroke-dasharray="2.2,1.6"/><path d="M473.50,112.80L476.10,115.40L473.50,118.00L470.90,115.40Z" fill="#ff0000"/><path d="M483.20,112.80L485.80,115.40L483.20,118.00L480.60,115.40Z" fill="#ff0000"/><text x="490.9" y="117.80" font-family="Liberation Serif" font-weight="bold" font-size="6.7" stroke="#000" stroke-width="0.12" textLength="14.5" lengthAdjust="spacingAndGlyphs">ABC</text><line x1="473.5" y1="121.90" x2="483.2" y2="121.90" stroke="#bf00bf" stroke-width="1.0" stroke-dasharray="2.2,1.6"/><path d="M471.30,123.55L475.70,123.55L473.50,119.81Z" fill="#bf00bf"/><path d="M481.00,123.55L485.40,123.55L483.20,119.81Z" fill="#bf00bf"/><text x="490.9" y="124.30" font-family="Liberation Serif" font-weight="bold" font-size="6.7" stroke="#000" stroke-width="0.12" textLength="26.5" lengthAdjust="spacingAndGlyphs">Coverage</text>
<rect x="409.5" y="16.5" width="153.0" height="115.9" fill="none" stroke="#000" stroke-width="1.2"/><g stroke="#000" stroke-width="0.8"><line x1="409.50" y1="132.4" x2="409.50" y2="129.4"/><line x1="409.50" y1="16.5" x2="409.50" y2="19.5"/><line x1="435.00" y1="132.4" x2="435.00" y2="129.4"/><line x1="435.00" y1="16.5" x2="435.00" y2="19.5"/><line x1="460.50" y1="132.4" x2="460.50" y2="129.4"/><line x1="460.50" y1="16.5" x2="460.50" y2="19.5"/><line x1="486.00" y1="132.4" x2="486.00" y2="129.4"/><line x1="486.00" y1="16.5" x2="486.00" y2="19.5"/><line x1="511.50" y1="132.4" x2="511.50" y2="129.4"/><line x1="511.50" y1="16.5" x2="511.50" y2="19.5"/><line x1="537.00" y1="132.4" x2="537.00" y2="129.4"/><line x1="537.00" y1="16.5" x2="537.00" y2="19.5"/><line x1="562.50" y1="132.4" x2="562.50" y2="129.4"/><line x1="562.50" y1="16.5" x2="562.50" y2="19.5"/><line x1="409.5" y1="132.40" x2="412.5" y2="132.40"/><line x1="562.5" y1="132.40" x2="559.5" y2="132.40"/><line x1="409.5" y1="106.06" x2="412.5" y2="106.06"/><line x1="562.5" y1="106.06" x2="559.5" y2="106.06"/><line x1="409.5" y1="79.72" x2="412.5" y2="79.72"/><line x1="562.5" y1="79.72" x2="559.5" y2="79.72"/><line x1="409.5" y1="53.38" x2="412.5" y2="53.38"/><line x1="562.5" y1="53.38" x2="559.5" y2="53.38"/><line x1="409.5" y1="27.04" x2="412.5" y2="27.04"/><line x1="562.5" y1="27.04" x2="559.5" y2="27.04"/></g>
<g font-family="Liberation Sans" font-weight="bold" font-size="6.4" fill="#000" stroke="#000" stroke-width="0.2"><text x="409.50" y="140.80" text-anchor="middle" textLength="9" lengthAdjust="spacingAndGlyphs">0.0</text><text x="435.00" y="140.80" text-anchor="middle" textLength="9" lengthAdjust="spacingAndGlyphs">0.1</text><text x="460.50" y="140.80" text-anchor="middle" textLength="9" lengthAdjust="spacingAndGlyphs">0.2</text><text x="486.00" y="140.80" text-anchor="middle" textLength="9" lengthAdjust="spacingAndGlyphs">0.3</text><text x="511.50" y="140.80" text-anchor="middle" textLength="9" lengthAdjust="spacingAndGlyphs">0.4</text><text x="537.00" y="140.80" text-anchor="middle" textLength="9" lengthAdjust="spacingAndGlyphs">0.5</text><text x="562.50" y="140.80" text-anchor="middle" textLength="9" lengthAdjust="spacingAndGlyphs">0.6</text><text x="408.20" y="134.65" text-anchor="end" textLength="9.0" lengthAdjust="spacingAndGlyphs">0.0</text><text x="408.20" y="108.31" text-anchor="end" textLength="9.0" lengthAdjust="spacingAndGlyphs">0.5</text><text x="408.20" y="81.97" text-anchor="end" textLength="9.0" lengthAdjust="spacingAndGlyphs">1.0</text><text x="408.20" y="55.63" text-anchor="end" textLength="9.0" lengthAdjust="spacingAndGlyphs">1.5</text><text x="408.20" y="29.29" text-anchor="end" textLength="9.0" lengthAdjust="spacingAndGlyphs">2.0</text></g>
<text x="486.00" y="154.00" text-anchor="middle" font-family="Liberation Serif" font-style="italic" font-size="10" stroke="#000" stroke-width="0.15">σ</text>
<text transform="translate(393.50,74.60) rotate(-90)" text-anchor="middle" font-family="Liberation Sans" stroke="#000" stroke-width="0.28" font-size="9.0" textLength="98.2" lengthAdjust="spacingAndGlyphs">Estimated <tspan font-family="Liberation Serif" font-style="italic" font-weight="bold" font-size="1.12em">D</tspan> (in hops)</text>
<text x="384.4" y="11.6" font-family="Liberation Sans" font-weight="bold" font-size="16.5">c</text>
<clipPath id="clipd"><rect x="23.5" y="175.7" width="154.95" height="113.19999999999999"/></clipPath>
<g clip-path="url(#clipd)" opacity="0.75">
<g stroke="#9c9c9c" stroke-width="1.1"><line x1="49.33" y1="175" x2="49.33" y2="289"/><line x1="75.15" y1="175" x2="75.15" y2="289"/><line x1="100.97" y1="175" x2="100.97" y2="289"/><line x1="126.80" y1="175" x2="126.80" y2="289"/><line x1="152.62" y1="175" x2="152.62" y2="289"/><line x1="23" y1="276.32" x2="179" y2="276.32"/><line x1="23" y1="263.74" x2="179" y2="263.74"/><line x1="23" y1="251.17" x2="179" y2="251.17"/><line x1="23" y1="238.59" x2="179" y2="238.59"/><line x1="23" y1="226.01" x2="179" y2="226.01"/><line x1="23" y1="213.43" x2="179" y2="213.43"/><line x1="23" y1="200.86" x2="179" y2="200.86"/><line x1="23" y1="188.28" x2="179" y2="188.28"/></g>
<g stroke="#666" stroke-width="1.1" stroke-dasharray="1,1"><line x1="49.33" y1="175" x2="49.33" y2="289"/><line x1="75.15" y1="175" x2="75.15" y2="289"/><line x1="100.97" y1="175" x2="100.97" y2="289"/><line x1="126.80" y1="175" x2="126.80" y2="289"/><line x1="152.62" y1="175" x2="152.62" y2="289"/><line x1="23" y1="276.32" x2="179" y2="276.32"/><line x1="23" y1="263.74" x2="179" y2="263.74"/><line x1="23" y1="251.17" x2="179" y2="251.17"/><line x1="23" y1="238.59" x2="179" y2="238.59"/><line x1="23" y1="226.01" x2="179" y2="226.01"/><line x1="23" y1="213.43" x2="179" y2="213.43"/><line x1="23" y1="200.86" x2="179" y2="200.86"/><line x1="23" y1="188.28" x2="179" y2="188.28"/></g>
<g stroke="#000" stroke-width="1.1" stroke-dasharray="1,3"><line x1="49.33" y1="175" x2="49.33" y2="289"/><line x1="75.15" y1="175" x2="75.15" y2="289"/><line x1="100.97" y1="175" x2="100.97" y2="289"/><line x1="126.80" y1="175" x2="126.80" y2="289"/><line x1="152.62" y1="175" x2="152.62" y2="289"/><line x1="23" y1="276.32" x2="179" y2="276.32"/><line x1="23" y1="263.74" x2="179" y2="263.74"/><line x1="23" y1="251.17" x2="179" y2="251.17"/><line x1="23" y1="238.59" x2="179" y2="238.59"/><line x1="23" y1="226.01" x2="179" y2="226.01"/><line x1="23" y1="213.43" x2="179" y2="213.43"/><line x1="23" y1="200.86" x2="179" y2="200.86"/><line x1="23" y1="188.28" x2="179" y2="188.28"/></g>
</g>
<g clip-path="url(#clipd)"><polyline points="23.50,286.13 40.72,282.99 57.93,275.17 75.15,267.27 92.37,261.33 109.58,257.83 126.80,256.32 144.02,255.32 161.23,254.69 178.45,254.31" fill="none" stroke="#000" stroke-width="0.9" stroke-dasharray="2.2,1.4"/><path d="M21.50,284.63L25.50,284.63L23.50,288.03Z" fill="#000"/><path d="M38.72,281.49L42.72,281.49L40.72,284.89Z" fill="#000"/><path d="M55.93,273.67L59.93,273.67L57.93,277.07Z" fill="#000"/><path d="M73.15,265.77L77.15,265.77L75.15,269.17Z" fill="#000"/><path d="M90.37,259.83L94.37,259.83L92.37,263.23Z" fill="#000"/><path d="M107.58,256.33L111.58,256.33L109.58,259.73Z" fill="#000"/><path d="M124.80,254.82L128.80,254.82L126.80,258.22Z" fill="#000"/><path d="M142.02,253.82L146.02,253.82L144.02,257.22Z" fill="#000"/><path d="M159.23,253.19L163.23,253.19L161.23,256.59Z" fill="#000"/><path d="M176.45,252.81L180.45,252.81L178.45,256.21Z" fill="#000"/><polyline points="23.50,269.78 40.72,267.64 57.93,261.33 75.15,253.68 92.37,249.41 109.58,245.88 126.80,244.12 144.02,242.49 161.23,240.35 178.45,241.61" fill="none" stroke="#2ca02c" stroke-width="1.0"/><path d="M24.77,268.08L24.77,271.48L21.89,269.78Z" fill="#108a10"/><path d="M41.99,265.94L41.99,269.34L39.10,267.64Z" fill="#108a10"/><path d="M59.21,259.63L59.21,263.03L56.32,261.33Z" fill="#108a10"/><path d="M76.43,251.98L76.43,255.38L73.54,253.68Z" fill="#108a10"/><path d="M93.64,247.71L93.64,251.11L90.75,249.41Z" fill="#108a10"/><path d="M110.86,244.18L110.86,247.58L107.97,245.88Z" fill="#108a10"/><path d="M128.08,242.42L128.08,245.82L125.19,244.12Z" fill="#108a10"/><path d="M145.29,240.79L145.29,244.19L142.40,242.49Z" fill="#108a10"/><path d="M162.51,238.65L162.51,242.05L159.62,240.35Z" fill="#108a10"/><path d="M179.72,239.91L179.72,243.31L176.83,241.61Z" fill="#108a10"/><polyline points="23.50,281.48 40.72,277.83 57.93,271.79 75.15,265.13 92.37,259.97 109.58,256.83 126.80,254.69 144.02,253.18 161.23,253.68 178.45,253.18" fill="none" stroke="#007f00" stroke-width="1.3"/><path d="M25.00,279.48L25.00,283.48L21.60,281.48Z" fill="#007f00"/><path d="M42.22,275.83L42.22,279.83L38.82,277.83Z" fill="#007f00"/><path d="M59.43,269.79L59.43,273.79L56.03,271.79Z" fill="#007f00"/><path d="M76.65,263.13L76.65,267.13L73.25,265.13Z" fill="#007f00"/><path d="M93.87,257.97L93.87,261.97L90.47,259.97Z" fill="#007f00"/><path d="M111.08,254.83L111.08,258.83L107.68,256.83Z" fill="#007f00"/><path d="M128.30,252.69L128.30,256.69L124.90,254.69Z" fill="#007f00"/><path d="M145.52,251.18L145.52,255.18L142.12,253.18Z" fill="#007f00"/><path d="M162.73,251.68L162.73,255.68L159.33,253.68Z" fill="#007f00"/><path d="M179.95,251.18L179.95,255.18L176.55,253.18Z" fill="#007f00"/><polyline points="23.50,269.03 40.72,265.51 57.93,257.20 75.15,247.39 92.37,243.12 109.58,239.60 126.80,237.46 144.02,235.32 161.23,235.32 178.45,234.06" fill="none" stroke="#00bfbf" stroke-width="0.8" stroke-dasharray="2.2,1.6"/><rect x="21.80" y="267.33" width="3.40" height="3.40" rx="0.6" fill="#00bfbf"/><rect x="39.02" y="263.81" width="3.40" height="3.40" rx="0.6" fill="#00bfbf"/><rect x="56.23" y="255.50" width="3.40" height="3.40" rx="0.6" fill="#00bfbf"/><rect x="73.45" y="245.69" width="3.40" height="3.40" rx="0.6" fill="#00bfbf"/><rect x="90.67" y="241.42" width="3.40" height="3.40" rx="0.6" fill="#00bfbf"/><rect x="107.88" y="237.90" width="3.40" height="3.40" rx="0.6" fill="#00bfbf"/><rect x="125.10" y="235.76" width="3.40" height="3.40" rx="0.6" fill="#00bfbf"/><rect x="142.32" y="233.62" width="3.40" height="3.40" rx="0.6" fill="#00bfbf"/><rect x="159.53" y="233.62" width="3.40" height="3.40" rx="0.6" fill="#00bfbf"/><rect x="176.75" y="232.36" width="3.40" height="3.40" rx="0.6" fill="#00bfbf"/><polyline points="23.50,220.23 40.72,214.82 57.93,202.87 75.15,195.07 92.37,188.28 109.58,183.25 126.80,179.98 144.02,178.22 161.23,178.22 178.45,177.71" fill="none" stroke="#ff0000" stroke-width="0.7" stroke-dasharray="2.2,1.6"/><path d="M23.50,217.63L26.10,220.23L23.50,222.83L20.90,220.23Z" fill="#ff0000"/><path d="M40.72,212.22L43.32,214.82L40.72,217.42L38.12,214.82Z" fill="#ff0000"/><path d="M57.93,200.27L60.53,202.87L57.93,205.47L55.33,202.87Z" fill="#ff0000"/><path d="M75.15,192.47L77.75,195.07L75.15,197.67L72.55,195.07Z" fill="#ff0000"/><path d="M92.37,185.68L94.97,188.28L92.37,190.88L89.77,188.28Z" fill="#ff0000"/><path d="M109.58,180.65L112.18,183.25L109.58,185.85L106.98,183.25Z" fill="#ff0000"/><path d="M126.80,177.38L129.40,179.98L126.80,182.58L124.20,179.98Z" fill="#ff0000"/><path d="M144.02,175.62L146.62,178.22L144.02,180.82L141.42,178.22Z" fill="#ff0000"/><path d="M161.23,175.62L163.83,178.22L161.23,180.82L158.63,178.22Z" fill="#ff0000"/><path d="M178.45,175.11L181.05,177.71L178.45,180.31L175.85,177.71Z" fill="#ff0000"/><polyline points="23.50,245.13 40.72,239.97 57.93,229.53 75.15,222.24 92.37,217.21 109.58,213.43 126.80,210.92 144.02,208.91 161.23,207.90 178.45,206.64" fill="none" stroke="#bf00bf" stroke-width="0.7" stroke-dasharray="2.2,1.6"/><path d="M21.30,246.78L25.70,246.78L23.50,243.04Z" fill="#bf00bf"/><path d="M38.52,241.62L42.92,241.62L40.72,237.88Z" fill="#bf00bf"/><path d="M55.73,231.18L60.13,231.18L57.93,227.44Z" fill="#bf00bf"/><path d="M72.95,223.89L77.35,223.89L75.15,220.15Z" fill="#bf00bf"/><path d="M90.17,218.86L94.57,218.86L92.37,215.12Z" fill="#bf00bf"/><path d="M107.38,215.08L111.78,215.08L109.58,211.34Z" fill="#bf00bf"/><path d="M124.60,212.57L129.00,212.57L126.80,208.83Z" fill="#bf00bf"/><path d="M141.82,210.56L146.22,210.56L144.02,206.82Z" fill="#bf00bf"/><path d="M159.03,209.55L163.43,209.55L161.23,205.81Z" fill="#bf00bf"/><path d="M176.25,208.29L180.65,208.29L178.45,204.55Z" fill="#bf00bf"/></g>
<rect x="85.4" y="179" width="90.6" height="49" fill="#fff"/><line x1="90.0" y1="184.50" x2="98.9" y2="184.50" stroke="#000" stroke-width="1.2" stroke-dasharray="2.2,1.4"/><path d="M88.00,183.00L92.00,183.00L90.00,186.40Z" fill="#000"/><path d="M96.90,183.00L100.90,183.00L98.90,186.40Z" fill="#000"/><text x="106.7" y="186.90" font-family="Liberation Serif" font-weight="bold" font-size="6.7" stroke="#000" stroke-width="0.12" textLength="27.3" lengthAdjust="spacingAndGlyphs">LV – Obs</text><line x1="90.0" y1="192.80" x2="98.9" y2="192.80" stroke="#2ca02c" stroke-width="1.3"/><path d="M91.28,191.10L91.28,194.50L88.39,192.80Z" fill="#108a10"/><path d="M100.18,191.10L100.18,194.50L97.29,192.80Z" fill="#108a10"/><text x="106.7" y="195.20" font-family="Liberation Serif" font-weight="bold" font-size="6.7" stroke="#000" stroke-width="0.12" textLength="66.0" lengthAdjust="spacingAndGlyphs">HV – Obs, <tspan font-style="italic">L</tspan>/<tspan text-decoration="overline">Δ</tspan> = 0.13</text><line x1="90.0" y1="201.40" x2="98.9" y2="201.40" stroke="#007f00" stroke-width="1.6"/><path d="M91.50,199.40L91.50,203.40L88.10,201.40Z" fill="#007f00"/><path d="M100.40,199.40L100.40,203.40L97.00,201.40Z" fill="#007f00"/><text x="106.7" y="203.80" font-family="Liberation Serif" font-weight="bold" font-size="6.7" stroke="#000" stroke-width="0.12" textLength="66.0" lengthAdjust="spacingAndGlyphs">HV – Obs, <tspan font-style="italic">L</tspan>/<tspan text-decoration="overline">Δ</tspan> = 0.25</text><line x1="90.0" y1="207.80" x2="98.9" y2="207.80" stroke="#00bfbf" stroke-width="1.1" stroke-dasharray="2.2,1.6"/><rect x="88.30" y="206.10" width="3.40" height="3.40" rx="0.6" fill="#00bfbf"/><rect x="97.20" y="206.10" width="3.40" height="3.40" rx="0.6" fill="#00bfbf"/><text x="106.7" y="210.20" font-family="Liberation Serif" font-weight="bold" font-size="6.7" stroke="#000" stroke-width="0.12" textLength="36.0" lengthAdjust="spacingAndGlyphs">K – Medians</text><line x1="90.0" y1="215.40" x2="98.9" y2="215.40" stroke="#ff0000" stroke-width="1.0" stroke-dasharray="2.2,1.6"/><path d="M90.00,212.80L92.60,215.40L90.00,218.00L87.40,215.40Z" fill="#ff0000"/><path d="M98.90,212.80L101.50,215.40L98.90,218.00L96.30,215.40Z" fill="#ff0000"/><text x="106.7" y="217.80" font-family="Liberation Serif" font-weight="bold" font-size="6.7" stroke="#000" stroke-width="0.12" textLength="14.5" lengthAdjust="spacingAndGlyphs">ABC</text><line x1="90.0" y1="221.50" x2="98.9" y2="221.50" stroke="#bf00bf" stroke-width="1.0" stroke-dasharray="2.2,1.6"/><path d="M87.80,223.15L92.20,223.15L90.00,219.41Z" fill="#bf00bf"/><path d="M96.70,223.15L101.10,223.15L98.90,219.41Z" fill="#bf00bf"/><text x="106.7" y="223.90" font-family="Liberation Serif" font-weight="bold" font-size="6.7" stroke="#000" stroke-width="0.12" textLength="26.5" lengthAdjust="spacingAndGlyphs">Coverage</text>
<rect x="23.5" y="175.7" width="154.95" height="113.19999999999999" fill="none" stroke="#000" stroke-width="1.2"/><g stroke="#000" stroke-width="0.8"><line x1="23.50" y1="288.9" x2="23.50" y2="285.9"/><line x1="23.50" y1="175.7" x2="23.50" y2="178.7"/><line x1="49.33" y1="288.9" x2="49.33" y2="285.9"/><line x1="49.33" y1="175.7" x2="49.33" y2="178.7"/><line x1="75.15" y1="288.9" x2="75.15" y2="285.9"/><line x1="75.15" y1="175.7" x2="75.15" y2="178.7"/><line x1="100.97" y1="288.9" x2="100.97" y2="285.9"/><line x1="100.97" y1="175.7" x2="100.97" y2="178.7"/><line x1="126.80" y1="288.9" x2="126.80" y2="285.9"/><line x1="126.80" y1="175.7" x2="126.80" y2="178.7"/><line x1="152.62" y1="288.9" x2="152.62" y2="285.9"/><line x1="152.62" y1="175.7" x2="152.62" y2="178.7"/><line x1="178.45" y1="288.9" x2="178.45" y2="285.9"/><line x1="178.45" y1="175.7" x2="178.45" y2="178.7"/><line x1="23.5" y1="288.90" x2="26.5" y2="288.90"/><line x1="178.45" y1="288.90" x2="175.45" y2="288.90"/><line x1="23.5" y1="276.32" x2="26.5" y2="276.32"/><line x1="178.45" y1="276.32" x2="175.45" y2="276.32"/><line x1="23.5" y1="263.74" x2="26.5" y2="263.74"/><line x1="178.45" y1="263.74" x2="175.45" y2="263.74"/><line x1="23.5" y1="251.17" x2="26.5" y2="251.17"/><line x1="178.45" y1="251.17" x2="175.45" y2="251.17"/><line x1="23.5" y1="238.59" x2="26.5" y2="238.59"/><line x1="178.45" y1="238.59" x2="175.45" y2="238.59"/><line x1="23.5" y1="226.01" x2="26.5" y2="226.01"/><line x1="178.45" y1="226.01" x2="175.45" y2="226.01"/><line x1="23.5" y1="213.43" x2="26.5" y2="213.43"/><line x1="178.45" y1="213.43" x2="175.45" y2="213.43"/><line x1="23.5" y1="200.86" x2="26.5" y2="200.86"/><line x1="178.45" y1="200.86" x2="175.45" y2="200.86"/><line x1="23.5" y1="188.28" x2="26.5" y2="188.28"/><line x1="178.45" y1="188.28" x2="175.45" y2="188.28"/><line x1="23.5" y1="175.70" x2="26.5" y2="175.70"/><line x1="178.45" y1="175.70" x2="175.45" y2="175.70"/></g>
<g font-family="Liberation Sans" font-weight="bold" font-size="6.4" fill="#000" stroke="#000" stroke-width="0.2"><text x="23.50" y="297.30" text-anchor="middle" textLength="9" lengthAdjust="spacingAndGlyphs">0.0</text><text x="49.33" y="297.30" text-anchor="middle" textLength="9" lengthAdjust="spacingAndGlyphs">0.1</text><text x="75.15" y="297.30" text-anchor="middle" textLength="9" lengthAdjust="spacingAndGlyphs">0.2</text><text x="100.97" y="297.30" text-anchor="middle" textLength="9" lengthAdjust="spacingAndGlyphs">0.3</text><text x="126.80" y="297.30" text-anchor="middle" textLength="9" lengthAdjust="spacingAndGlyphs">0.4</text><text x="152.62" y="297.30" text-anchor="middle" textLength="9" lengthAdjust="spacingAndGlyphs">0.5</text><text x="178.45" y="297.30" text-anchor="middle" textLength="9" lengthAdjust="spacingAndGlyphs">0.6</text><text x="22.20" y="291.15" text-anchor="end" textLength="9.0" lengthAdjust="spacingAndGlyphs">0.0</text><text x="22.20" y="278.57" text-anchor="end" textLength="9.0" lengthAdjust="spacingAndGlyphs">0.5</text><text x="22.20" y="265.99" text-anchor="end" textLength="9.0" lengthAdjust="spacingAndGlyphs">1.0</text><text x="22.20" y="253.42" text-anchor="end" textLength="9.0" lengthAdjust="spacingAndGlyphs">1.5</text><text x="22.20" y="240.84" text-anchor="end" textLength="9.0" lengthAdjust="spacingAndGlyphs">2.0</text><text x="22.20" y="228.26" text-anchor="end" textLength="9.0" lengthAdjust="spacingAndGlyphs">2.5</text><text x="22.20" y="215.68" text-anchor="end" textLength="9.0" lengthAdjust="spacingAndGlyphs">3.0</text><text x="22.20" y="203.11" text-anchor="end" textLength="9.0" lengthAdjust="spacingAndGlyphs">3.5</text><text x="22.20" y="190.53" text-anchor="end" textLength="9.0" lengthAdjust="spacingAndGlyphs">4.0</text><text x="22.20" y="177.95" text-anchor="end" textLength="9.0" lengthAdjust="spacingAndGlyphs">4.5</text></g>
<text x="100.97" y="310.50" text-anchor="middle" font-family="Liberation Serif" font-style="italic" font-size="10" stroke="#000" stroke-width="0.15">σ</text>
<text transform="translate(7.70,231.60) rotate(-90)" text-anchor="middle" font-family="Liberation Sans" font-weight="bold" font-size="7.7" textLength="47.4" lengthAdjust="spacingAndGlyphs">Estimated <tspan font-family="Liberation Serif" font-style="italic" font-weight="bold" font-size="1.12em">D</tspan></text>
<text x="-0.8" y="172.4" font-family="Liberation Sans" font-weight="bold" font-size="15.5">d</text>
<clipPath id="clipe"><rect x="209.5" y="175.65" width="163.10000000000002" height="113.24999999999997"/></clipPath>
<g clip-path="url(#clipe)" opacity="0.65">
<g stroke="#9c9c9c" stroke-width="1.1"><line x1="236.31" y1="175" x2="236.31" y2="289"/><line x1="263.12" y1="175" x2="263.12" y2="289"/><line x1="289.93" y1="175" x2="289.93" y2="289"/><line x1="316.73" y1="175" x2="316.73" y2="289"/><line x1="343.54" y1="175" x2="343.54" y2="289"/><line x1="370.35" y1="175" x2="370.35" y2="289"/><line x1="209" y1="274.74" x2="373" y2="274.74"/><line x1="209" y1="260.59" x2="373" y2="260.59"/><line x1="209" y1="246.43" x2="373" y2="246.43"/><line x1="209" y1="232.27" x2="373" y2="232.27"/><line x1="209" y1="218.12" x2="373" y2="218.12"/><line x1="209" y1="203.96" x2="373" y2="203.96"/><line x1="209" y1="189.81" x2="373" y2="189.81"/></g>
<g stroke="#666" stroke-width="1.1" stroke-dasharray="1,1"><line x1="236.31" y1="175" x2="236.31" y2="289"/><line x1="263.12" y1="175" x2="263.12" y2="289"/><line x1="289.93" y1="175" x2="289.93" y2="289"/><line x1="316.73" y1="175" x2="316.73" y2="289"/><line x1="343.54" y1="175" x2="343.54" y2="289"/><line x1="370.35" y1="175" x2="370.35" y2="289"/><line x1="209" y1="274.74" x2="373" y2="274.74"/><line x1="209" y1="260.59" x2="373" y2="260.59"/><line x1="209" y1="246.43" x2="373" y2="246.43"/><line x1="209" y1="232.27" x2="373" y2="232.27"/><line x1="209" y1="218.12" x2="373" y2="218.12"/><line x1="209" y1="203.96" x2="373" y2="203.96"/><line x1="209" y1="189.81" x2="373" y2="189.81"/></g>
<g stroke="#000" stroke-width="1.1" stroke-dasharray="1,3"><line x1="236.31" y1="175" x2="236.31" y2="289"/><line x1="263.12" y1="175" x2="263.12" y2="289"/><line x1="289.93" y1="175" x2="289.93" y2="289"/><line x1="316.73" y1="175" x2="316.73" y2="289"/><line x1="343.54" y1="175" x2="343.54" y2="289"/><line x1="370.35" y1="175" x2="370.35" y2="289"/><line x1="209" y1="274.74" x2="373" y2="274.74"/><line x1="209" y1="260.59" x2="373" y2="260.59"/><line x1="209" y1="246.43" x2="373" y2="246.43"/><line x1="209" y1="232.27" x2="373" y2="232.27"/><line x1="209" y1="218.12" x2="373" y2="218.12"/><line x1="209" y1="203.96" x2="373" y2="203.96"/><line x1="209" y1="189.81" x2="373" y2="189.81"/></g>
</g>
<g clip-path="url(#clipe)"><polyline points="209.50,285.36 227.37,275.88 245.24,255.92 263.12,234.68 280.99,222.51 298.86,216.28 316.73,213.16 334.61,211.04 352.48,209.62 370.35,208.21" fill="none" stroke="#000" stroke-width="0.9" stroke-dasharray="2.2,1.4"/><path d="M207.50,283.86L211.50,283.86L209.50,287.26Z" fill="#000"/><path d="M225.37,274.38L229.37,274.38L227.37,277.78Z" fill="#000"/><path d="M243.24,254.42L247.24,254.42L245.24,257.82Z" fill="#000"/><path d="M261.12,233.18L265.12,233.18L263.12,236.58Z" fill="#000"/><path d="M278.99,221.01L282.99,221.01L280.99,224.41Z" fill="#000"/><path d="M296.86,214.78L300.86,214.78L298.86,218.18Z" fill="#000"/><path d="M314.73,211.66L318.73,211.66L316.73,215.06Z" fill="#000"/><path d="M332.61,209.54L336.61,209.54L334.61,212.94Z" fill="#000"/><path d="M350.48,208.12L354.48,208.12L352.48,211.53Z" fill="#000"/><path d="M368.35,206.71L372.35,206.71L370.35,210.11Z" fill="#000"/><polyline points="209.50,281.11 227.37,272.05 245.24,252.66 263.12,233.69 280.99,220.24 298.86,213.16 316.73,210.47 334.61,209.48 352.48,207.50 370.35,205.38" fill="none" stroke="#2ca02c" stroke-width="0.9"/><path d="M210.78,279.41L210.78,282.81L207.88,281.11Z" fill="#108a10"/><path d="M228.65,270.35L228.65,273.75L225.76,272.05Z" fill="#108a10"/><path d="M246.52,250.96L246.52,254.36L243.63,252.66Z" fill="#108a10"/><path d="M264.39,231.99L264.39,235.39L261.50,233.69Z" fill="#108a10"/><path d="M282.26,218.54L282.26,221.94L279.37,220.24Z" fill="#108a10"/><path d="M300.14,211.46L300.14,214.86L297.25,213.16Z" fill="#108a10"/><path d="M318.01,208.77L318.01,212.17L315.12,210.47Z" fill="#108a10"/><path d="M335.88,207.78L335.88,211.18L332.99,209.48Z" fill="#108a10"/><path d="M353.75,205.80L353.75,209.20L350.86,207.50Z" fill="#108a10"/><path d="M371.62,203.68L371.62,207.08L368.74,205.38Z" fill="#108a10"/><polyline points="209.50,281.82 227.37,272.62 245.24,253.51 263.12,236.80 280.99,228.03 298.86,224.49 316.73,219.53 334.61,218.26 352.48,217.69 370.35,217.13" fill="none" stroke="#007f00" stroke-width="0.9"/><path d="M211.00,279.82L211.00,283.82L207.60,281.82Z" fill="#007f00"/><path d="M228.87,270.62L228.87,274.62L225.47,272.62Z" fill="#007f00"/><path d="M246.74,251.51L246.74,255.51L243.34,253.51Z" fill="#007f00"/><path d="M264.62,234.80L264.62,238.80L261.22,236.80Z" fill="#007f00"/><path d="M282.49,226.03L282.49,230.03L279.09,228.03Z" fill="#007f00"/><path d="M300.36,222.49L300.36,226.49L296.96,224.49Z" fill="#007f00"/><path d="M318.23,217.53L318.23,221.53L314.83,219.53Z" fill="#007f00"/><path d="M336.11,216.26L336.11,220.26L332.71,218.26Z" fill="#007f00"/><path d="M353.98,215.69L353.98,219.69L350.58,217.69Z" fill="#007f00"/><path d="M371.85,215.13L371.85,219.13L368.45,217.13Z" fill="#007f00"/><polyline points="209.50,280.55 227.37,270.57 245.24,252.66 263.12,238.93 280.99,227.46 298.86,223.50 316.73,219.53 334.61,218.26 352.48,217.69 370.35,213.73" fill="none" stroke="#00bfbf" stroke-width="0.8" stroke-dasharray="2.2,1.6"/><rect x="207.80" y="278.85" width="3.40" height="3.40" rx="0.6" fill="#00bfbf"/><rect x="225.67" y="268.87" width="3.40" height="3.40" rx="0.6" fill="#00bfbf"/><rect x="243.54" y="250.96" width="3.40" height="3.40" rx="0.6" fill="#00bfbf"/><rect x="261.42" y="237.23" width="3.40" height="3.40" rx="0.6" fill="#00bfbf"/><rect x="279.29" y="225.76" width="3.40" height="3.40" rx="0.6" fill="#00bfbf"/><rect x="297.16" y="221.80" width="3.40" height="3.40" rx="0.6" fill="#00bfbf"/><rect x="315.03" y="217.83" width="3.40" height="3.40" rx="0.6" fill="#00bfbf"/><rect x="332.91" y="216.56" width="3.40" height="3.40" rx="0.6" fill="#00bfbf"/><rect x="350.78" y="215.99" width="3.40" height="3.40" rx="0.6" fill="#00bfbf"/><rect x="368.65" y="212.03" width="3.40" height="3.40" rx="0.6" fill="#00bfbf"/><polyline points="209.50,274.18 227.37,263.28 245.24,240.49 263.12,214.58 280.99,199.57 298.86,192.21 316.73,185.84 334.61,183.86 352.48,184.85 370.35,184.14" fill="none" stroke="#ff0000" stroke-width="0.7" stroke-dasharray="2.2,1.6"/><path d="M209.50,271.58L212.10,274.18L209.50,276.78L206.90,274.18Z" fill="#ff0000"/><path d="M227.37,260.68L229.97,263.28L227.37,265.88L224.77,263.28Z" fill="#ff0000"/><path d="M245.24,237.89L247.84,240.49L245.24,243.09L242.64,240.49Z" fill="#ff0000"/><path d="M263.12,211.98L265.72,214.58L263.12,217.18L260.52,214.58Z" fill="#ff0000"/><path d="M280.99,196.97L283.59,199.57L280.99,202.17L278.39,199.57Z" fill="#ff0000"/><path d="M298.86,189.61L301.46,192.21L298.86,194.81L296.26,192.21Z" fill="#ff0000"/><path d="M316.73,183.24L319.33,185.84L316.73,188.44L314.13,185.84Z" fill="#ff0000"/><path d="M334.61,181.26L337.21,183.86L334.61,186.46L332.01,183.86Z" fill="#ff0000"/><path d="M352.48,182.25L355.08,184.85L352.48,187.45L349.88,184.85Z" fill="#ff0000"/><path d="M370.35,181.54L372.95,184.14L370.35,186.74L367.75,184.14Z" fill="#ff0000"/><polyline points="209.50,276.87 227.37,267.03 245.24,249.55 263.12,232.56 280.99,220.24 298.86,213.31 316.73,212.46 334.61,209.48 352.48,207.93 370.35,208.92" fill="none" stroke="#bf00bf" stroke-width="0.7" stroke-dasharray="2.2,1.6"/><path d="M207.30,278.52L211.70,278.52L209.50,274.78Z" fill="#bf00bf"/><path d="M225.17,268.68L229.57,268.68L227.37,264.94Z" fill="#bf00bf"/><path d="M243.04,251.20L247.44,251.20L245.24,247.46Z" fill="#bf00bf"/><path d="M260.92,234.21L265.32,234.21L263.12,230.47Z" fill="#bf00bf"/><path d="M278.79,221.89L283.19,221.89L280.99,218.15Z" fill="#bf00bf"/><path d="M296.66,214.96L301.06,214.96L298.86,211.22Z" fill="#bf00bf"/><path d="M314.53,214.11L318.93,214.11L316.73,210.37Z" fill="#bf00bf"/><path d="M332.41,211.13L336.81,211.13L334.61,207.39Z" fill="#bf00bf"/><path d="M350.28,209.58L354.68,209.58L352.48,205.84Z" fill="#bf00bf"/><path d="M368.15,210.57L372.55,210.57L370.35,206.83Z" fill="#bf00bf"/></g>
<line x1="284.5" y1="240.80" x2="294.2" y2="240.80" stroke="#000" stroke-width="1.2" stroke-dasharray="2.2,1.4"/><path d="M282.50,239.30L286.50,239.30L284.50,242.70Z" fill="#000"/><path d="M292.20,239.30L296.20,239.30L294.20,242.70Z" fill="#000"/><text x="301" y="243.20" font-family="Liberation Serif" font-weight="bold" font-size="6.7" stroke="#000" stroke-width="0.12" textLength="27.3" lengthAdjust="spacingAndGlyphs">LV – Obs</text><line x1="284.5" y1="248.90" x2="294.2" y2="248.90" stroke="#2ca02c" stroke-width="1.3"/><path d="M285.77,247.20L285.77,250.60L282.88,248.90Z" fill="#108a10"/><path d="M295.47,247.20L295.47,250.60L292.58,248.90Z" fill="#108a10"/><text x="301" y="251.30" font-family="Liberation Serif" font-weight="bold" font-size="6.7" stroke="#000" stroke-width="0.12" textLength="62.4" lengthAdjust="spacingAndGlyphs">HV – Obs, <tspan font-style="italic">L</tspan>/<tspan text-decoration="overline">Δ</tspan> = 0.5</text><line x1="284.5" y1="257.00" x2="294.2" y2="257.00" stroke="#007f00" stroke-width="1.6"/><path d="M286.00,255.00L286.00,259.00L282.60,257.00Z" fill="#007f00"/><path d="M295.70,255.00L295.70,259.00L292.30,257.00Z" fill="#007f00"/><text x="301" y="259.40" font-family="Liberation Serif" font-weight="bold" font-size="6.7" stroke="#000" stroke-width="0.12" textLength="66.0" lengthAdjust="spacingAndGlyphs">HV – Obs, <tspan font-style="italic">L</tspan>/<tspan text-decoration="overline">Δ</tspan> = 0.75</text><line x1="284.5" y1="265.00" x2="294.2" y2="265.00" stroke="#00bfbf" stroke-width="1.1" stroke-dasharray="2.2,1.6"/><rect x="282.80" y="263.30" width="3.40" height="3.40" rx="0.6" fill="#00bfbf"/><rect x="292.50" y="263.30" width="3.40" height="3.40" rx="0.6" fill="#00bfbf"/><text x="301" y="267.40" font-family="Liberation Serif" font-weight="bold" font-size="6.7" stroke="#000" stroke-width="0.12" textLength="36.0" lengthAdjust="spacingAndGlyphs">K – Medians</text><line x1="284.5" y1="271.50" x2="294.2" y2="271.50" stroke="#ff0000" stroke-width="1.0" stroke-dasharray="2.2,1.6"/><path d="M284.50,268.90L287.10,271.50L284.50,274.10L281.90,271.50Z" fill="#ff0000"/><path d="M294.20,268.90L296.80,271.50L294.20,274.10L291.60,271.50Z" fill="#ff0000"/><text x="301" y="273.90" font-family="Liberation Serif" font-weight="bold" font-size="6.7" stroke="#000" stroke-width="0.12" textLength="14.5" lengthAdjust="spacingAndGlyphs">ABC</text><line x1="284.5" y1="278.70" x2="294.2" y2="278.70" stroke="#bf00bf" stroke-width="1.0" stroke-dasharray="2.2,1.6"/><path d="M282.30,280.35L286.70,280.35L284.50,276.61Z" fill="#bf00bf"/><path d="M292.00,280.35L296.40,280.35L294.20,276.61Z" fill="#bf00bf"/><text x="301" y="281.10" font-family="Liberation Serif" font-weight="bold" font-size="6.7" stroke="#000" stroke-width="0.12" textLength="26.5" lengthAdjust="spacingAndGlyphs">Coverage</text>
<rect x="209.5" y="175.65" width="163.10000000000002" height="113.24999999999997" fill="none" stroke="#000" stroke-width="1.2"/><g stroke="#000" stroke-width="0.8"><line x1="209.50" y1="288.9" x2="209.50" y2="285.9"/><line x1="209.50" y1="175.65" x2="209.50" y2="178.65"/><line x1="236.31" y1="288.9" x2="236.31" y2="285.9"/><line x1="236.31" y1="175.65" x2="236.31" y2="178.65"/><line x1="263.12" y1="288.9" x2="263.12" y2="285.9"/><line x1="263.12" y1="175.65" x2="263.12" y2="178.65"/><line x1="289.93" y1="288.9" x2="289.93" y2="285.9"/><line x1="289.93" y1="175.65" x2="289.93" y2="178.65"/><line x1="316.73" y1="288.9" x2="316.73" y2="285.9"/><line x1="316.73" y1="175.65" x2="316.73" y2="178.65"/><line x1="343.54" y1="288.9" x2="343.54" y2="285.9"/><line x1="343.54" y1="175.65" x2="343.54" y2="178.65"/><line x1="370.35" y1="288.9" x2="370.35" y2="285.9"/><line x1="370.35" y1="175.65" x2="370.35" y2="178.65"/><line x1="209.5" y1="288.90" x2="212.5" y2="288.90"/><line x1="372.6" y1="288.90" x2="369.6" y2="288.90"/><line x1="209.5" y1="274.74" x2="212.5" y2="274.74"/><line x1="372.6" y1="274.74" x2="369.6" y2="274.74"/><line x1="209.5" y1="260.59" x2="212.5" y2="260.59"/><line x1="372.6" y1="260.59" x2="369.6" y2="260.59"/><line x1="209.5" y1="246.43" x2="212.5" y2="246.43"/><line x1="372.6" y1="246.43" x2="369.6" y2="246.43"/><line x1="209.5" y1="232.27" x2="212.5" y2="232.27"/><line x1="372.6" y1="232.27" x2="369.6" y2="232.27"/><line x1="209.5" y1="218.12" x2="212.5" y2="218.12"/><line x1="372.6" y1="218.12" x2="369.6" y2="218.12"/><line x1="209.5" y1="203.96" x2="212.5" y2="203.96"/><line x1="372.6" y1="203.96" x2="369.6" y2="203.96"/><line x1="209.5" y1="189.81" x2="212.5" y2="189.81"/><line x1="372.6" y1="189.81" x2="369.6" y2="189.81"/><line x1="209.5" y1="175.65" x2="212.5" y2="175.65"/><line x1="372.6" y1="175.65" x2="369.6" y2="175.65"/></g>
<g font-family="Liberation Sans" font-weight="bold" font-size="6.4" fill="#000" stroke="#000" stroke-width="0.2"><text x="209.50" y="297.30" text-anchor="middle" textLength="9" lengthAdjust="spacingAndGlyphs">0.0</text><text x="236.31" y="297.30" text-anchor="middle" textLength="9" lengthAdjust="spacingAndGlyphs">0.1</text><text x="263.12" y="297.30" text-anchor="middle" textLength="9" lengthAdjust="spacingAndGlyphs">0.2</text><text x="289.93" y="297.30" text-anchor="middle" textLength="9" lengthAdjust="spacingAndGlyphs">0.3</text><text x="316.73" y="297.30" text-anchor="middle" textLength="9" lengthAdjust="spacingAndGlyphs">0.4</text><text x="343.54" y="297.30" text-anchor="middle" textLength="9" lengthAdjust="spacingAndGlyphs">0.5</text><text x="370.35" y="297.30" text-anchor="middle" textLength="9" lengthAdjust="spacingAndGlyphs">0.6</text><text x="208.20" y="291.15" text-anchor="end" textLength="3.6" lengthAdjust="spacingAndGlyphs">0</text><text x="208.20" y="276.99" text-anchor="end" textLength="3.6" lengthAdjust="spacingAndGlyphs">1</text><text x="208.20" y="262.84" text-anchor="end" textLength="3.6" lengthAdjust="spacingAndGlyphs">2</text><text x="208.20" y="248.68" text-anchor="end" textLength="3.6" lengthAdjust="spacingAndGlyphs">3</text><text x="208.20" y="234.52" text-anchor="end" textLength="3.6" lengthAdjust="spacingAndGlyphs">4</text><text x="208.20" y="220.37" text-anchor="end" textLength="3.6" lengthAdjust="spacingAndGlyphs">5</text><text x="208.20" y="206.21" text-anchor="end" textLength="3.6" lengthAdjust="spacingAndGlyphs">6</text><text x="208.20" y="192.06" text-anchor="end" textLength="3.6" lengthAdjust="spacingAndGlyphs">7</text><text x="208.20" y="177.90" text-anchor="end" textLength="3.6" lengthAdjust="spacingAndGlyphs" clip-path="url(#clip8)">8</text></g>
<text x="291.05" y="310.50" text-anchor="middle" font-family="Liberation Serif" font-style="italic" font-size="10" stroke="#000" stroke-width="0.15">σ</text>
<text transform="translate(200.50,232.45) rotate(-90)" text-anchor="middle" font-family="Liberation Sans" font-weight="bold" font-size="7.4" textLength="45.5" lengthAdjust="spacingAndGlyphs">Estimated <tspan font-family="Liberation Serif" font-style="italic" font-weight="bold" font-size="1.12em">D</tspan></text>
<text x="194.0" y="173.2" font-family="Liberation Sans" font-weight="bold" font-size="16.8">e</text>
<clipPath id="clipf"><rect x="402.9" y="175.65" width="159.60000000000002" height="113.24999999999997"/></clipPath>
<g clip-path="url(#clipf)" opacity="0.85">
<g stroke="#9c9c9c" stroke-width="1.1"><line x1="429.50" y1="175" x2="429.50" y2="289"/><line x1="456.10" y1="175" x2="456.10" y2="289"/><line x1="482.70" y1="175" x2="482.70" y2="289"/><line x1="509.30" y1="175" x2="509.30" y2="289"/><line x1="535.90" y1="175" x2="535.90" y2="289"/><line x1="402" y1="266.25" x2="563" y2="266.25"/><line x1="402" y1="243.60" x2="563" y2="243.60"/><line x1="402" y1="220.95" x2="563" y2="220.95"/><line x1="402" y1="198.30" x2="563" y2="198.30"/></g>
<g stroke="#666" stroke-width="1.1" stroke-dasharray="1,1"><line x1="429.50" y1="175" x2="429.50" y2="289"/><line x1="456.10" y1="175" x2="456.10" y2="289"/><line x1="482.70" y1="175" x2="482.70" y2="289"/><line x1="509.30" y1="175" x2="509.30" y2="289"/><line x1="535.90" y1="175" x2="535.90" y2="289"/><line x1="402" y1="266.25" x2="563" y2="266.25"/><line x1="402" y1="243.60" x2="563" y2="243.60"/><line x1="402" y1="220.95" x2="563" y2="220.95"/><line x1="402" y1="198.30" x2="563" y2="198.30"/></g>
<g stroke="#000" stroke-width="1.1" stroke-dasharray="1,3"><line x1="429.50" y1="175" x2="429.50" y2="289"/><line x1="456.10" y1="175" x2="456.10" y2="289"/><line x1="482.70" y1="175" x2="482.70" y2="289"/><line x1="509.30" y1="175" x2="509.30" y2="289"/><line x1="535.90" y1="175" x2="535.90" y2="289"/><line x1="402" y1="266.25" x2="563" y2="266.25"/><line x1="402" y1="243.60" x2="563" y2="243.60"/><line x1="402" y1="220.95" x2="563" y2="220.95"/><line x1="402" y1="198.30" x2="563" y2="198.30"/></g>
</g>
<g clip-path="url(#clipf)"><polyline points="402.90,286.18 420.63,282.10 438.37,273.50 456.10,246.32 473.83,224.80 491.57,214.16 509.30,208.49 527.03,203.06 544.77,201.13 562.50,201.13" fill="none" stroke="#000" stroke-width="0.9" stroke-dasharray="2.2,1.4"/><path d="M400.90,284.68L404.90,284.68L402.90,288.08Z" fill="#000"/><path d="M418.63,280.60L422.63,280.60L420.63,284.00Z" fill="#000"/><path d="M436.37,272.00L440.37,272.00L438.37,275.40Z" fill="#000"/><path d="M454.10,244.82L458.10,244.82L456.10,248.22Z" fill="#000"/><path d="M471.83,223.30L475.83,223.30L473.83,226.70Z" fill="#000"/><path d="M489.57,212.66L493.57,212.66L491.57,216.06Z" fill="#000"/><path d="M507.30,206.99L511.30,206.99L509.30,210.39Z" fill="#000"/><path d="M525.03,201.56L529.03,201.56L527.03,204.96Z" fill="#000"/><path d="M542.77,199.63L546.77,199.63L544.77,203.03Z" fill="#000"/><path d="M560.50,199.63L564.50,199.63L562.50,203.03Z" fill="#000"/><polyline points="402.90,285.05 420.63,280.97 438.37,271.46 456.10,238.84 473.83,216.42 491.57,205.55 509.30,200.34 527.03,197.62 544.77,196.26 562.50,194.90" fill="none" stroke="#2ca02c" stroke-width="0.9"/><path d="M404.17,283.35L404.17,286.75L401.28,285.05Z" fill="#108a10"/><path d="M421.91,279.27L421.91,282.67L419.02,280.97Z" fill="#108a10"/><path d="M439.64,269.76L439.64,273.16L436.75,271.46Z" fill="#108a10"/><path d="M457.38,237.14L457.38,240.54L454.49,238.84Z" fill="#108a10"/><path d="M475.11,214.72L475.11,218.12L472.22,216.42Z" fill="#108a10"/><path d="M492.84,203.85L492.84,207.25L489.95,205.55Z" fill="#108a10"/><path d="M510.57,198.64L510.57,202.04L507.69,200.34Z" fill="#108a10"/><path d="M528.31,195.92L528.31,199.32L525.42,197.62Z" fill="#108a10"/><path d="M546.04,194.56L546.04,197.96L543.15,196.26Z" fill="#108a10"/><path d="M563.77,193.20L563.77,196.60L560.88,194.90Z" fill="#108a10"/><polyline points="402.90,285.50 420.63,281.43 438.37,273.04 456.10,247.22 473.83,224.80 491.57,213.70 509.30,208.49 527.03,205.55 544.77,203.51 562.50,202.15" fill="none" stroke="#007f00" stroke-width="1.05"/><path d="M404.40,283.50L404.40,287.50L401.00,285.50Z" fill="#007f00"/><path d="M422.13,279.43L422.13,283.43L418.73,281.43Z" fill="#007f00"/><path d="M439.87,271.04L439.87,275.04L436.47,273.04Z" fill="#007f00"/><path d="M457.60,245.22L457.60,249.22L454.20,247.22Z" fill="#007f00"/><path d="M475.33,222.80L475.33,226.80L471.93,224.80Z" fill="#007f00"/><path d="M493.07,211.70L493.07,215.70L489.67,213.70Z" fill="#007f00"/><path d="M510.80,206.49L510.80,210.49L507.40,208.49Z" fill="#007f00"/><path d="M528.53,203.55L528.53,207.55L525.13,205.55Z" fill="#007f00"/><path d="M546.27,201.51L546.27,205.51L542.87,203.51Z" fill="#007f00"/><path d="M564.00,200.15L564.00,204.15L560.60,202.15Z" fill="#007f00"/><polyline points="402.90,286.18 420.63,278.71 438.37,262.63 456.10,232.50 473.83,211.89 491.57,201.47 509.30,195.81 527.03,191.50 544.77,189.01 562.50,187.20" fill="none" stroke="#00bfbf" stroke-width="0.8" stroke-dasharray="2.2,1.6"/><rect x="401.20" y="284.48" width="3.40" height="3.40" rx="0.6" fill="#00bfbf"/><rect x="418.93" y="277.01" width="3.40" height="3.40" rx="0.6" fill="#00bfbf"/><rect x="436.67" y="260.93" width="3.40" height="3.40" rx="0.6" fill="#00bfbf"/><rect x="454.40" y="230.80" width="3.40" height="3.40" rx="0.6" fill="#00bfbf"/><rect x="472.13" y="210.19" width="3.40" height="3.40" rx="0.6" fill="#00bfbf"/><rect x="489.87" y="199.77" width="3.40" height="3.40" rx="0.6" fill="#00bfbf"/><rect x="507.60" y="194.11" width="3.40" height="3.40" rx="0.6" fill="#00bfbf"/><rect x="525.33" y="189.81" width="3.40" height="3.40" rx="0.6" fill="#00bfbf"/><rect x="543.07" y="187.31" width="3.40" height="3.40" rx="0.6" fill="#00bfbf"/><rect x="560.80" y="185.50" width="3.40" height="3.40" rx="0.6" fill="#00bfbf"/><polyline points="402.90,285.50 420.63,276.22 438.37,258.32 456.10,227.52 473.83,205.55 491.57,195.36 509.30,191.50 527.03,185.62 544.77,184.03 562.50,182.67" fill="none" stroke="#bf00bf" stroke-width="0.7" stroke-dasharray="2.2,1.6"/><path d="M400.70,287.15L405.10,287.15L402.90,283.41Z" fill="#bf00bf"/><path d="M418.43,277.87L422.83,277.87L420.63,274.13Z" fill="#bf00bf"/><path d="M436.17,259.97L440.57,259.97L438.37,256.23Z" fill="#bf00bf"/><path d="M453.90,229.17L458.30,229.17L456.10,225.43Z" fill="#bf00bf"/><path d="M471.63,207.20L476.03,207.20L473.83,203.46Z" fill="#bf00bf"/><path d="M489.37,197.01L493.77,197.01L491.57,193.27Z" fill="#bf00bf"/><path d="M507.10,193.16L511.50,193.16L509.30,189.41Z" fill="#bf00bf"/><path d="M524.83,187.27L529.23,187.27L527.03,183.53Z" fill="#bf00bf"/><path d="M542.57,185.68L546.97,185.68L544.77,181.94Z" fill="#bf00bf"/><path d="M560.30,184.32L564.70,184.32L562.50,180.58Z" fill="#bf00bf"/><polyline points="402.90,284.60 420.63,272.37 438.37,253.57 456.10,218.69 473.83,197.39 491.57,186.52 509.30,181.31 527.03,179.73 544.77,176.78 562.50,176.33" fill="none" stroke="#ff0000" stroke-width="0.7" stroke-dasharray="2.2,1.6"/><path d="M402.90,282.00L405.50,284.60L402.90,287.20L400.30,284.60Z" fill="#ff0000"/><path d="M420.63,269.77L423.23,272.37L420.63,274.97L418.03,272.37Z" fill="#ff0000"/><path d="M438.37,250.97L440.97,253.57L438.37,256.17L435.77,253.57Z" fill="#ff0000"/><path d="M456.10,216.09L458.70,218.69L456.10,221.28L453.50,218.69Z" fill="#ff0000"/><path d="M473.83,194.79L476.43,197.39L473.83,199.99L471.23,197.39Z" fill="#ff0000"/><path d="M491.57,183.92L494.17,186.52L491.57,189.12L488.97,186.52Z" fill="#ff0000"/><path d="M509.30,178.71L511.90,181.31L509.30,183.91L506.70,181.31Z" fill="#ff0000"/><path d="M527.03,177.13L529.63,179.73L527.03,182.33L524.43,179.73Z" fill="#ff0000"/><path d="M544.77,174.18L547.37,176.78L544.77,179.38L542.17,176.78Z" fill="#ff0000"/><path d="M562.50,173.73L565.10,176.33L562.50,178.93L559.90,176.33Z" fill="#ff0000"/></g>
<line x1="474.0" y1="241.60" x2="483.7" y2="241.60" stroke="#000" stroke-width="1.2" stroke-dasharray="2.2,1.4"/><path d="M472.00,240.10L476.00,240.10L474.00,243.50Z" fill="#000"/><path d="M481.70,240.10L485.70,240.10L483.70,243.50Z" fill="#000"/><text x="491" y="244.00" font-family="Liberation Serif" font-weight="bold" font-size="6.7" stroke="#000" stroke-width="0.12" textLength="27.3" lengthAdjust="spacingAndGlyphs">LV – Obs</text><line x1="474.0" y1="248.90" x2="483.7" y2="248.90" stroke="#2ca02c" stroke-width="1.3"/><path d="M475.27,247.20L475.27,250.60L472.38,248.90Z" fill="#108a10"/><path d="M484.97,247.20L484.97,250.60L482.08,248.90Z" fill="#108a10"/><text x="491" y="251.30" font-family="Liberation Serif" font-weight="bold" font-size="6.7" stroke="#000" stroke-width="0.12" textLength="66.0" lengthAdjust="spacingAndGlyphs">HV – Obs, <tspan font-style="italic">L</tspan>/<tspan text-decoration="overline">Δ</tspan> = 0.75</text><line x1="474.0" y1="257.00" x2="483.7" y2="257.00" stroke="#007f00" stroke-width="1.6"/><path d="M475.50,255.00L475.50,259.00L472.10,257.00Z" fill="#007f00"/><path d="M485.20,255.00L485.20,259.00L481.80,257.00Z" fill="#007f00"/><text x="491" y="259.40" font-family="Liberation Serif" font-weight="bold" font-size="6.7" stroke="#000" stroke-width="0.12" textLength="62.4" lengthAdjust="spacingAndGlyphs">HV – Obs, <tspan font-style="italic">L</tspan>/<tspan text-decoration="overline">Δ</tspan> = 0.9</text><line x1="474.0" y1="264.70" x2="483.7" y2="264.70" stroke="#00bfbf" stroke-width="1.1" stroke-dasharray="2.2,1.6"/><rect x="472.30" y="263.00" width="3.40" height="3.40" rx="0.6" fill="#00bfbf"/><rect x="482.00" y="263.00" width="3.40" height="3.40" rx="0.6" fill="#00bfbf"/><text x="491" y="267.10" font-family="Liberation Serif" font-weight="bold" font-size="6.7" stroke="#000" stroke-width="0.12" textLength="36.0" lengthAdjust="spacingAndGlyphs">K – Medians</text><line x1="474.0" y1="271.20" x2="483.7" y2="271.20" stroke="#bf00bf" stroke-width="1.0" stroke-dasharray="2.2,1.6"/><path d="M471.80,272.85L476.20,272.85L474.00,269.11Z" fill="#bf00bf"/><path d="M481.50,272.85L485.90,272.85L483.70,269.11Z" fill="#bf00bf"/><text x="491" y="273.60" font-family="Liberation Serif" font-weight="bold" font-size="6.7" stroke="#000" stroke-width="0.12" textLength="26.5" lengthAdjust="spacingAndGlyphs">Coverage</text><line x1="474.0" y1="279.20" x2="483.7" y2="279.20" stroke="#ff0000" stroke-width="1.0" stroke-dasharray="2.2,1.6"/><path d="M474.00,276.60L476.60,279.20L474.00,281.80L471.40,279.20Z" fill="#ff0000"/><path d="M483.70,276.60L486.30,279.20L483.70,281.80L481.10,279.20Z" fill="#ff0000"/><text x="491" y="281.60" font-family="Liberation Serif" font-weight="bold" font-size="6.7" stroke="#000" stroke-width="0.12" textLength="14.5" lengthAdjust="spacingAndGlyphs">ABC</text>
<rect x="402.9" y="175.65" width="159.60000000000002" height="113.24999999999997" fill="none" stroke="#000" stroke-width="1.2"/><g stroke="#000" stroke-width="0.8"><line x1="402.90" y1="288.9" x2="402.90" y2="285.9"/><line x1="402.90" y1="175.65" x2="402.90" y2="178.65"/><line x1="429.50" y1="288.9" x2="429.50" y2="285.9"/><line x1="429.50" y1="175.65" x2="429.50" y2="178.65"/><line x1="456.10" y1="288.9" x2="456.10" y2="285.9"/><line x1="456.10" y1="175.65" x2="456.10" y2="178.65"/><line x1="482.70" y1="288.9" x2="482.70" y2="285.9"/><line x1="482.70" y1="175.65" x2="482.70" y2="178.65"/><line x1="509.30" y1="288.9" x2="509.30" y2="285.9"/><line x1="509.30" y1="175.65" x2="509.30" y2="178.65"/><line x1="535.90" y1="288.9" x2="535.90" y2="285.9"/><line x1="535.90" y1="175.65" x2="535.90" y2="178.65"/><line x1="562.50" y1="288.9" x2="562.50" y2="285.9"/><line x1="562.50" y1="175.65" x2="562.50" y2="178.65"/><line x1="402.9" y1="288.90" x2="405.9" y2="288.90"/><line x1="562.5" y1="288.90" x2="559.5" y2="288.90"/><line x1="402.9" y1="266.25" x2="405.9" y2="266.25"/><line x1="562.5" y1="266.25" x2="559.5" y2="266.25"/><line x1="402.9" y1="243.60" x2="405.9" y2="243.60"/><line x1="562.5" y1="243.60" x2="559.5" y2="243.60"/><line x1="402.9" y1="220.95" x2="405.9" y2="220.95"/><line x1="562.5" y1="220.95" x2="559.5" y2="220.95"/><line x1="402.9" y1="198.30" x2="405.9" y2="198.30"/><line x1="562.5" y1="198.30" x2="559.5" y2="198.30"/><line x1="402.9" y1="175.65" x2="405.9" y2="175.65"/><line x1="562.5" y1="175.65" x2="559.5" y2="175.65"/></g>
<g font-family="Liberation Sans" font-weight="bold" font-size="6.4" fill="#000" stroke="#000" stroke-width="0.2"><text x="402.90" y="297.30" text-anchor="middle" textLength="9" lengthAdjust="spacingAndGlyphs">0.0</text><text x="429.50" y="297.30" text-anchor="middle" textLength="9" lengthAdjust="spacingAndGlyphs">0.1</text><text x="456.10" y="297.30" text-anchor="middle" textLength="9" lengthAdjust="spacingAndGlyphs">0.2</text><text x="482.70" y="297.30" text-anchor="middle" textLength="9" lengthAdjust="spacingAndGlyphs">0.3</text><text x="509.30" y="297.30" text-anchor="middle" textLength="9" lengthAdjust="spacingAndGlyphs">0.4</text><text x="535.90" y="297.30" text-anchor="middle" textLength="9" lengthAdjust="spacingAndGlyphs">0.5</text><text x="562.50" y="297.30" text-anchor="middle" textLength="9" lengthAdjust="spacingAndGlyphs">0.6</text><text x="401.60" y="291.15" text-anchor="end" textLength="3.6" lengthAdjust="spacingAndGlyphs">0</text><text x="401.60" y="268.50" text-anchor="end" textLength="3.6" lengthAdjust="spacingAndGlyphs">1</text><text x="401.60" y="245.85" text-anchor="end" textLength="3.6" lengthAdjust="spacingAndGlyphs">2</text><text x="401.60" y="223.20" text-anchor="end" textLength="3.6" lengthAdjust="spacingAndGlyphs">3</text><text x="401.60" y="200.55" text-anchor="end" textLength="3.6" lengthAdjust="spacingAndGlyphs">4</text><text x="401.60" y="177.90" text-anchor="end" textLength="3.6" lengthAdjust="spacingAndGlyphs">5</text></g>
<text x="482.70" y="310.50" text-anchor="middle" font-family="Liberation Serif" font-style="italic" font-size="10" stroke="#000" stroke-width="0.15">σ</text>
<text transform="translate(393.40,232.60) rotate(-90)" text-anchor="middle" font-family="Liberation Sans" font-weight="bold" font-size="9.2" textLength="53.6" lengthAdjust="spacingAndGlyphs">Estimated <tspan font-family="Liberation Serif" font-style="italic" font-weight="bold" font-size="1.12em">D</tspan></text>
<text x="384.7" y="172.7" font-family="Liberation Sans" font-weight="bold" font-size="15.5">f</text>
</svg></body></html>
